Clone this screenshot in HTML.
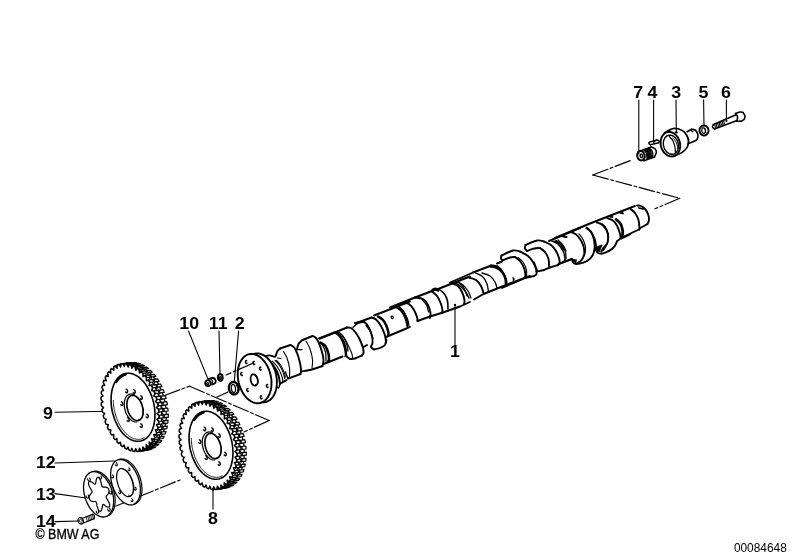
<!DOCTYPE html>
<html><head><meta charset="utf-8"><title>Camshaft</title><style>html,body{margin:0;padding:0;background:#fff;overflow:hidden}body{width:799px;height:559px;position:relative;font-family:"Liberation Sans",sans-serif}</style></head><body>
<svg width="799" height="559" viewBox="0 0 799 559" style="display:block;position:absolute;left:0;top:0"><rect width="799" height="559" fill="#fff"/><g style="opacity:0.999" fill="none" stroke="#000" stroke-linecap="round" stroke-linejoin="round" font-family="'Liberation Sans', sans-serif">
<text transform="translate(638.3 98.3) scale(1.08 1)" font-size="16.5" font-weight="bold" text-anchor="middle" fill="#000" stroke="none">7</text>
<text transform="translate(652.5 98.3) scale(1.08 1)" font-size="16.5" font-weight="bold" text-anchor="middle" fill="#000" stroke="none">4</text>
<text transform="translate(676.1 98.3) scale(1.08 1)" font-size="16.5" font-weight="bold" text-anchor="middle" fill="#000" stroke="none">3</text>
<text transform="translate(703.4 98.3) scale(1.08 1)" font-size="16.5" font-weight="bold" text-anchor="middle" fill="#000" stroke="none">5</text>
<text transform="translate(726.0 97.6) scale(1.08 1)" font-size="16.5" font-weight="bold" text-anchor="middle" fill="#000" stroke="none">6</text>
<text transform="translate(189.2 328.7) scale(1.08 1)" font-size="16.5" font-weight="bold" text-anchor="middle" fill="#000" stroke="none">10</text>
<text transform="translate(218.2 328.7) scale(1.08 1)" font-size="16.5" font-weight="bold" text-anchor="middle" fill="#000" stroke="none">11</text>
<text transform="translate(239.7 328.7) scale(1.08 1)" font-size="16.5" font-weight="bold" text-anchor="middle" fill="#000" stroke="none">2</text>
<text transform="translate(455.0 357.2) scale(1.08 1)" font-size="16.5" font-weight="bold" text-anchor="middle" fill="#000" stroke="none">1</text>
<text transform="translate(48.0 418.8) scale(1.08 1)" font-size="16.5" font-weight="bold" text-anchor="middle" fill="#000" stroke="none">9</text>
<text transform="translate(45.8 467.8) scale(1.08 1)" font-size="16.5" font-weight="bold" text-anchor="middle" fill="#000" stroke="none">12</text>
<text transform="translate(45.8 499.8) scale(1.08 1)" font-size="16.5" font-weight="bold" text-anchor="middle" fill="#000" stroke="none">13</text>
<text transform="translate(45.8 526.6) scale(1.08 1)" font-size="16.5" font-weight="bold" text-anchor="middle" fill="#000" stroke="none">14</text>
<text transform="translate(213.0 523.6) scale(1.08 1)" font-size="16.5" font-weight="bold" text-anchor="middle" fill="#000" stroke="none">8</text>
<text x="35.4" y="538.8" font-size="15.4" fill="#000" stroke="#000" stroke-width="0.35" textLength="64" lengthAdjust="spacingAndGlyphs">© BMW AG</text>
<text x="786.8" y="552.3" font-size="11.9" font-weight="normal" text-anchor="end" fill="#000" stroke="none" >00084648</text>
<path d="M638.8 100.0 L638.8 154.0" stroke-width="1.10" />
<path d="M653.6 100.0 L653.6 142.0" stroke-width="1.10" />
<path d="M676.0 100.0 L676.3 132.0" stroke-width="1.10" />
<circle cx="676.4" cy="132.3" r="1.2" fill="#000" stroke="none"/>
<path d="M703.6 100.0 L704.0 126.0" stroke-width="1.10" />
<path d="M726.4 100.0 L726.4 120.5" stroke-width="1.10" />
<circle cx="726.4" cy="121.0" r="1.1" fill="#000" stroke="none"/>
<path d="M188.5 331.0 L208.1 379.4" stroke-width="1.10" />
<path d="M219.0 331.0 L220.0 374.0" stroke-width="1.10" />
<path d="M238.6 331.0 L234.2 382.6" stroke-width="1.10" />
<path d="M455.0 305.5 L455.0 345.0" stroke-width="1.10" />
<circle cx="455.0" cy="305.0" r="1.2" fill="#000" stroke="none"/>
<path d="M55.0 412.3 L110.0 411.3" stroke-width="1.10" />
<circle cx="110.5" cy="411.3" r="1.3" fill="#000" stroke="none"/>
<path d="M55.0 463.0 L115.0 461.0" stroke-width="1.10" />
<path d="M55.0 493.6 L86.0 498.0" stroke-width="1.10" />
<circle cx="86.0" cy="498.0" r="1.1" fill="#000" stroke="none"/>
<path d="M55.0 521.6 L79.0 521.0" stroke-width="1.10" />
<path d="M213.0 490.0 L213.0 509.0" stroke-width="1.10" />
<circle cx="213.0" cy="489.5" r="1.2" fill="#000" stroke="none"/>
<path d="M592.8 175.0 L631.8 160.0" stroke-width="1.20" stroke-dasharray="16 2.5 3 2.5"/>
<path d="M592.8 175.0 L679.8 198.3" stroke-width="1.20" stroke-dasharray="16 2.5 3 2.5"/>
<path d="M679.8 198.3 L655.0 208.8" stroke-width="1.20" stroke-dasharray="16 2.5 3 2.5"/>
<path d="M164.5 395.5 L189.5 386.2" stroke-width="1.20" stroke-dasharray="16 2.5 3 2.5"/>
<path d="M189.5 386.2 L269.1 420.5" stroke-width="1.20" stroke-dasharray="16 2.5 3 2.5"/>
<path d="M269.1 420.5 L244.0 432.0" stroke-width="1.20" stroke-dasharray="16 2.5 3 2.5"/>
<path d="M228.0 392.0 L217.0 397.0" stroke-width="1.20" stroke-dasharray="16 2.5 3 2.5"/>
<path d="M116.0 506.0 L180.0 480.0" stroke-width="1.20" stroke-dasharray="16 2.5 3 2.5"/>
<path d="M125.7 367.6 L127.1 367.0 L128.4 366.4 L129.9 366.0 L131.3 365.7 L132.8 365.6 L134.3 365.6 L135.8 365.7 L137.3 365.9 L138.8 366.3 L140.4 366.8 L141.9 367.5 L143.4 368.2 L144.9 369.1 L146.4 370.1 L147.8 371.2 L149.3 372.5 L150.7 373.8 L152.1 375.2 L153.4 376.8 L154.7 378.4 L155.9 380.2 L157.1 382.0 L158.2 383.9 L159.2 385.8 L160.2 387.9 L161.2 390.0 L162.0 392.1 L162.8 394.3 L163.5 396.5 L164.2 398.8 L164.7 401.1 L165.2 403.4 L165.6 405.7 L165.9 408.0 L166.1 410.3 L166.2 412.6 L166.2 414.9 L166.2 417.2 L166.1 419.4 L165.9 421.6 L165.6 423.7 L165.2 425.7 L164.7 427.8 L164.2 429.7 L163.5 431.6 L162.8 433.3 L162.0 435.0 L161.2 436.6 L160.2 438.1 L159.3 439.6 L158.2 440.9 L157.1 442.0 L155.9 443.1 L154.7 444.1 L153.4 444.9 L152.1 445.6 L150.7 446.2 L149.3 446.6 L147.9 447.0 L146.4 447.2" stroke-width="1.30" />
<path d="M162.7 402.3 L163.2 405.3 L167.4 404.7 L166.8 401.7 Z" stroke-width="1.20" fill="#fff"/>
<path d="M160.6 401.9 L162.7 402.3 L163.2 405.3 L161.3 406.1" stroke-width="1.20" fill="#fff"/>
<path d="M163.7 408.5 L163.9 411.5 L168.1 411.0 L167.8 408.0 Z" stroke-width="1.20" fill="#fff"/>
<path d="M161.6 407.7 L163.7 408.5 L163.9 411.5 L162.0 411.9" stroke-width="1.20" fill="#fff"/>
<path d="M164.1 414.8 L164.1 417.7 L168.3 417.2 L168.3 414.2 Z" stroke-width="1.20" fill="#fff"/>
<path d="M162.0 413.5 L164.1 414.8 L164.1 417.7 L162.0 417.6" stroke-width="1.20" fill="#fff"/>
<path d="M163.9 420.8 L163.6 423.7 L167.8 423.1 L168.1 420.3 Z" stroke-width="1.20" fill="#fff"/>
<path d="M161.9 419.2 L163.9 420.8 L163.6 423.7 L161.5 423.1" stroke-width="1.20" fill="#fff"/>
<path d="M163.2 426.6 L162.6 429.3 L166.8 428.7 L167.3 426.1 Z" stroke-width="1.20" fill="#fff"/>
<path d="M161.3 424.6 L163.2 426.6 L162.6 429.3 L160.5 428.3" stroke-width="1.20" fill="#fff"/>
<path d="M161.8 432.0 L161.0 434.4 L165.2 433.9 L166.0 431.5 Z" stroke-width="1.20" fill="#fff"/>
<path d="M160.1 429.7 L161.8 432.0 L161.0 434.4 L159.0 433.0" stroke-width="1.20" fill="#fff"/>
<path d="M160.0 436.9 L158.9 439.0 L163.1 438.5 L164.1 436.3 Z" stroke-width="1.20" fill="#fff"/>
<path d="M158.5 434.3 L160.0 436.9 L158.9 439.0 L157.0 437.2" stroke-width="1.20" fill="#fff"/>
<path d="M157.6 441.2 L156.3 443.0 L160.5 442.4 L161.8 440.6 Z" stroke-width="1.20" fill="#fff"/>
<path d="M156.3 438.3 L157.6 441.2 L156.3 443.0 L154.5 440.8" stroke-width="1.20" fill="#fff"/>
<path d="M154.8 444.7 L153.3 446.2 L157.4 445.6 L158.9 444.2 Z" stroke-width="1.20" fill="#fff"/>
<path d="M153.7 441.7 L154.8 444.7 L153.3 446.2 L151.6 443.7" stroke-width="1.20" fill="#fff"/>
<path d="M151.5 447.5 L149.9 448.6 L154.0 448.0 L155.7 447.0 Z" stroke-width="1.20" fill="#fff"/>
<path d="M150.8 444.4 L151.5 447.5 L149.9 448.6 L148.4 445.9" stroke-width="1.20" fill="#fff"/>
<path d="M148.0 449.5 L146.1 450.1 L150.3 449.6 L152.1 449.0 Z" stroke-width="1.20" fill="#fff"/>
<path d="M147.5 446.3 L148.0 449.5 L146.1 450.1 L144.9 447.2" stroke-width="1.20" fill="#fff"/>
<path d="M144.1 450.6 L142.2 450.8 L146.4 450.3 L148.3 450.1 Z" stroke-width="1.20" fill="#fff"/>
<path d="M143.9 447.5 L144.1 450.6 L142.2 450.8 L141.3 447.8" stroke-width="1.20" fill="#fff"/>
<path d="M118.7 366.4 L120.4 365.3 L124.6 364.8 L122.9 365.8 Z" stroke-width="1.20" fill="#fff"/>
<path d="M119.5 369.5 L118.7 366.4 L120.4 365.3 L121.8 368.0" stroke-width="1.20" fill="#fff"/>
<path d="M122.3 364.4 L124.1 363.7 L128.3 363.2 L126.5 363.8 Z" stroke-width="1.20" fill="#fff"/>
<path d="M122.8 367.5 L122.3 364.4 L124.1 363.7 L125.3 366.6" stroke-width="1.20" fill="#fff"/>
<path d="M126.1 363.3 L128.0 363.1 L132.2 362.5 L130.3 362.7 Z" stroke-width="1.20" fill="#fff"/>
<path d="M126.3 366.4 L126.1 363.3 L128.0 363.1 L129.0 366.1" stroke-width="1.20" fill="#fff"/>
<path d="M130.1 363.1 L132.1 363.3 L136.3 362.7 L134.3 362.5 Z" stroke-width="1.20" fill="#fff"/>
<path d="M130.0 366.1 L130.1 363.1 L132.1 363.3 L132.7 366.4" stroke-width="1.20" fill="#fff"/>
<path d="M134.2 363.7 L136.2 364.4 L140.4 363.8 L138.4 363.2 Z" stroke-width="1.20" fill="#fff"/>
<path d="M133.8 366.6 L134.2 363.7 L136.2 364.4 L136.6 367.5" stroke-width="1.20" fill="#fff"/>
<path d="M138.4 365.3 L140.3 366.3 L144.5 365.8 L142.5 364.8 Z" stroke-width="1.20" fill="#fff"/>
<path d="M137.7 368.0 L138.4 365.3 L140.3 366.3 L140.4 369.5" stroke-width="1.20" fill="#fff"/>
<path d="M142.4 367.7 L144.3 369.1 L148.5 368.6 L146.6 367.2 Z" stroke-width="1.20" fill="#fff"/>
<path d="M141.5 370.1 L142.4 367.7 L144.3 369.1 L144.1 372.1" stroke-width="1.20" fill="#fff"/>
<path d="M146.3 370.9 L148.1 372.7 L152.3 372.2 L150.5 370.4 Z" stroke-width="1.20" fill="#fff"/>
<path d="M145.1 373.0 L146.3 370.9 L148.1 372.7 L147.6 375.5" stroke-width="1.20" fill="#fff"/>
<path d="M150.0 374.8 L151.7 377.0 L155.9 376.4 L154.2 374.3 Z" stroke-width="1.20" fill="#fff"/>
<path d="M148.6 376.6 L150.0 374.8 L151.7 377.0 L150.9 379.6" stroke-width="1.20" fill="#fff"/>
<path d="M153.4 379.4 L154.9 381.8 L159.1 381.3 L157.6 378.9 Z" stroke-width="1.20" fill="#fff"/>
<path d="M151.8 380.8 L153.4 379.4 L154.9 381.8 L153.9 384.2" stroke-width="1.20" fill="#fff"/>
<path d="M156.4 384.6 L157.7 387.2 L161.9 386.7 L160.6 384.0 Z" stroke-width="1.20" fill="#fff"/>
<path d="M154.6 385.5 L156.4 384.6 L157.7 387.2 L156.4 389.2" stroke-width="1.20" fill="#fff"/>
<path d="M159.0 390.2 L160.1 393.0 L164.3 392.4 L163.2 389.6 Z" stroke-width="1.20" fill="#fff"/>
<path d="M157.1 390.7 L159.0 390.2 L160.1 393.0 L158.6 394.6" stroke-width="1.20" fill="#fff"/>
<path d="M161.1 396.1 L161.9 399.1 L166.1 398.5 L165.3 395.6 Z" stroke-width="1.20" fill="#fff"/>
<path d="M159.1 396.2 L161.1 396.1 L161.9 399.1 L160.2 400.3" stroke-width="1.20" fill="#fff"/>
<path d="M121.1 368.2 L122.4 367.6 L123.8 367.0 L125.2 366.6 L126.7 366.3 L128.1 366.2 L129.6 366.2 L131.1 366.3 L132.6 366.5 L134.2 366.9 L135.7 367.4 L137.2 368.1 L138.7 368.8 L140.2 369.7 L141.7 370.7 L143.2 371.8 L144.6 373.1 L146.0 374.4 L147.4 375.8 L148.7 377.4 L150.0 379.0 L151.2 380.8 L152.4 382.6 L153.5 384.5 L154.6 386.4 L155.6 388.5 L156.5 390.6 L157.4 392.7 L158.2 394.9 L158.9 397.1 L159.5 399.4 L160.1 401.7 L160.5 404.0 L160.9 406.3 L161.2 408.6 L161.4 410.9 L161.6 413.2 L161.6 415.5 L161.6 417.8 L161.4 420.0 L161.2 422.2 L160.9 424.3 L160.5 426.3 L160.1 428.4 L159.5 430.3 L158.9 432.2 L158.2 433.9 L157.4 435.6 L156.5 437.2 L155.6 438.7 L154.6 440.2 L153.5 441.5 L152.4 442.6 L151.2 443.7 L150.0 444.7 L148.7 445.5 L147.4 446.2 L146.0 446.8 L144.6 447.2 L143.2 447.6 L141.7 447.8" stroke-width="1.10" fill="#fff"/>
<path d="M157.5 402.9 L158.1 405.9 L162.3 405.4 L161.7 402.4 Z" stroke-width="1.20" fill="#fff"/>
<path d="M155.5 402.6 L157.5 402.9 L158.1 405.9 L156.2 406.8" stroke-width="1.20" fill="#fff"/>
<path d="M158.5 409.2 L158.8 412.2 L163.0 411.7 L162.7 408.7 Z" stroke-width="1.20" fill="#fff"/>
<path d="M156.5 408.4 L158.5 409.2 L158.8 412.2 L156.8 412.6" stroke-width="1.20" fill="#fff"/>
<path d="M159.0 415.4 L159.0 418.4 L163.1 417.8 L163.1 414.9 Z" stroke-width="1.20" fill="#fff"/>
<path d="M156.9 414.2 L159.0 415.4 L159.0 418.4 L156.9 418.3" stroke-width="1.20" fill="#fff"/>
<path d="M158.8 421.5 L158.5 424.3 L162.7 423.8 L163.0 421.0 Z" stroke-width="1.20" fill="#fff"/>
<path d="M156.8 419.9 L158.8 421.5 L158.5 424.3 L156.4 423.8" stroke-width="1.20" fill="#fff"/>
<path d="M158.0 427.3 L157.5 429.9 L161.7 429.4 L162.2 426.7 Z" stroke-width="1.20" fill="#fff"/>
<path d="M156.2 425.3 L158.0 427.3 L157.5 429.9 L155.4 429.0" stroke-width="1.20" fill="#fff"/>
<path d="M156.7 432.7 L155.9 435.1 L160.1 434.5 L160.9 432.1 Z" stroke-width="1.20" fill="#fff"/>
<path d="M155.0 430.3 L156.7 432.7 L155.9 435.1 L153.9 433.7" stroke-width="1.20" fill="#fff"/>
<path d="M154.8 437.5 L153.8 439.7 L158.0 439.1 L159.0 437.0 Z" stroke-width="1.20" fill="#fff"/>
<path d="M153.3 434.9 L154.8 437.5 L153.8 439.7 L151.8 437.9" stroke-width="1.20" fill="#fff"/>
<path d="M152.5 441.8 L151.2 443.6 L155.4 443.1 L156.7 441.3 Z" stroke-width="1.20" fill="#fff"/>
<path d="M151.2 439.0 L152.5 441.8 L151.2 443.6 L149.4 441.5" stroke-width="1.20" fill="#fff"/>
<path d="M149.6 445.4 L148.1 446.8 L152.3 446.3 L153.8 444.8 Z" stroke-width="1.20" fill="#fff"/>
<path d="M148.6 442.4 L149.6 445.4 L148.1 446.8 L146.5 444.4" stroke-width="1.20" fill="#fff"/>
<path d="M146.4 448.2 L144.7 449.2 L148.9 448.7 L150.6 447.6 Z" stroke-width="1.20" fill="#fff"/>
<path d="M145.6 445.1 L146.4 448.2 L144.7 449.2 L143.3 446.5" stroke-width="1.20" fill="#fff"/>
<path d="M142.8 450.2 L141.0 450.8 L145.2 450.3 L147.0 449.6 Z" stroke-width="1.20" fill="#fff"/>
<path d="M142.4 447.0 L142.8 450.2 L141.0 450.8 L139.8 447.9" stroke-width="1.20" fill="#fff"/>
<path d="M139.0 451.3 L137.1 451.5 L141.3 450.9 L143.2 450.7 Z" stroke-width="1.20" fill="#fff"/>
<path d="M138.8 448.1 L139.0 451.3 L137.1 451.5 L136.2 448.4" stroke-width="1.20" fill="#fff"/>
<path d="M113.6 367.0 L115.3 366.0 L119.4 365.4 L117.8 366.5 Z" stroke-width="1.20" fill="#fff"/>
<path d="M114.4 370.1 L113.6 367.0 L115.3 366.0 L116.7 368.7" stroke-width="1.20" fill="#fff"/>
<path d="M117.2 365.0 L119.0 364.4 L123.2 363.9 L121.3 364.5 Z" stroke-width="1.20" fill="#fff"/>
<path d="M117.6 368.2 L117.2 365.0 L119.0 364.4 L120.2 367.3" stroke-width="1.20" fill="#fff"/>
<path d="M121.0 363.9 L122.9 363.7 L127.1 363.2 L125.2 363.4 Z" stroke-width="1.20" fill="#fff"/>
<path d="M121.2 367.1 L121.0 363.9 L122.9 363.7 L123.8 366.8" stroke-width="1.20" fill="#fff"/>
<path d="M125.0 363.7 L127.0 363.9 L131.1 363.4 L129.2 363.2 Z" stroke-width="1.20" fill="#fff"/>
<path d="M124.9 366.8 L125.0 363.7 L127.0 363.9 L127.6 367.1" stroke-width="1.20" fill="#fff"/>
<path d="M129.1 364.4 L131.1 365.0 L135.3 364.5 L133.3 363.9 Z" stroke-width="1.20" fill="#fff"/>
<path d="M128.7 367.3 L129.1 364.4 L131.1 365.0 L131.5 368.2" stroke-width="1.20" fill="#fff"/>
<path d="M133.2 366.0 L135.2 367.0 L139.4 366.5 L137.4 365.4 Z" stroke-width="1.20" fill="#fff"/>
<path d="M132.6 368.6 L133.2 366.0 L135.2 367.0 L135.3 370.1" stroke-width="1.20" fill="#fff"/>
<path d="M137.3 368.4 L139.2 369.8 L143.4 369.3 L141.5 367.8 Z" stroke-width="1.20" fill="#fff"/>
<path d="M136.3 370.8 L137.3 368.4 L139.2 369.8 L139.0 372.8" stroke-width="1.20" fill="#fff"/>
<path d="M141.2 371.6 L143.0 373.4 L147.2 372.8 L145.4 371.0 Z" stroke-width="1.20" fill="#fff"/>
<path d="M140.0 373.7 L141.2 371.6 L143.0 373.4 L142.5 376.2" stroke-width="1.20" fill="#fff"/>
<path d="M144.9 375.5 L146.6 377.6 L150.8 377.1 L149.1 374.9 Z" stroke-width="1.20" fill="#fff"/>
<path d="M143.5 377.3 L144.9 375.5 L146.6 377.6 L145.8 380.2" stroke-width="1.20" fill="#fff"/>
<path d="M148.3 380.1 L149.8 382.5 L154.0 381.9 L152.5 379.5 Z" stroke-width="1.20" fill="#fff"/>
<path d="M146.7 381.5 L148.3 380.1 L149.8 382.5 L148.7 384.8" stroke-width="1.20" fill="#fff"/>
<path d="M151.3 385.2 L152.6 387.9 L156.8 387.3 L155.5 384.7 Z" stroke-width="1.20" fill="#fff"/>
<path d="M149.5 386.2 L151.3 385.2 L152.6 387.9 L151.3 389.9" stroke-width="1.20" fill="#fff"/>
<path d="M153.9 390.8 L155.0 393.6 L159.1 393.1 L158.1 390.3 Z" stroke-width="1.20" fill="#fff"/>
<path d="M151.9 391.4 L153.9 390.8 L155.0 393.6 L153.4 395.3" stroke-width="1.20" fill="#fff"/>
<path d="M156.0 396.8 L156.8 399.7 L161.0 399.2 L160.2 396.2 Z" stroke-width="1.20" fill="#fff"/>
<path d="M153.9 396.9 L156.0 396.8 L156.8 399.7 L155.1 401.0" stroke-width="1.20" fill="#fff"/>
<path d="M155.4 401.7 L156.2 402.2 L156.9 402.7 L157.6 403.2 L157.7 403.8 L157.8 404.4 L157.9 405.1 L158.1 405.7 L157.6 406.3 L157.0 407.0 L156.5 407.6 L157.2 408.2 L157.9 408.8 L158.6 409.5 L158.6 410.1 L158.7 410.7 L158.8 411.3 L158.8 412.0 L158.2 412.5 L157.6 413.0 L157.0 413.4 L157.7 414.1 L158.4 414.9 L159.0 415.7 L159.0 416.3 L159.0 416.9 L159.0 417.5 L159.0 418.1 L158.3 418.5 L157.7 418.8 L157.0 419.1 L157.6 420.0 L158.2 420.9 L158.8 421.7 L158.7 422.3 L158.7 422.9 L158.6 423.5 L158.5 424.1 L157.9 424.3 L157.2 424.5 L156.5 424.6 L157.0 425.6 L157.5 426.5 L158.0 427.5 L157.9 428.1 L157.8 428.6 L157.7 429.2 L157.5 429.7 L156.8 429.8 L156.1 429.8 L155.4 429.8 L155.8 430.8 L156.3 431.8 L156.7 432.9 L156.5 433.4 L156.3 433.9 L156.1 434.4 L156.0 434.9 L155.2 434.8 L154.5 434.6 L153.7 434.5 L154.1 435.6 L154.5 436.7 L154.8 437.7 L154.5 438.2 L154.3 438.6 L154.1 439.1 L153.9 439.5 L153.1 439.3 L152.4 438.9 L151.6 438.6 L151.9 439.7 L152.2 440.9 L152.4 442.0 L152.1 442.4 L151.8 442.7 L151.6 443.1 L151.3 443.5 L150.6 443.1 L149.8 442.6 L149.1 442.1 L149.3 443.3 L149.4 444.4 L149.5 445.5 L149.2 445.8 L148.9 446.1 L148.6 446.4 L148.3 446.7 L147.6 446.2 L146.9 445.6 L146.2 444.9 L146.2 446.1 L146.3 447.2 L146.3 448.3 L145.9 448.5 L145.6 448.7 L145.2 448.9 L144.9 449.2 L144.2 448.5 L143.6 447.7 L142.9 447.0 L142.9 448.1 L142.8 449.2 L142.7 450.2 L142.3 450.4 L141.9 450.5 L141.6 450.6 L141.2 450.7 L140.6 450.0 L140.0 449.1 L139.4 448.2 L139.2 449.3 L139.1 450.3 L138.9 451.3 L138.5 451.3 L138.1 451.4 L137.7 451.4 L137.3 451.5 L136.7 450.6 L136.2 449.6 L135.7 448.7 L135.4 449.6 L135.1 450.6 L134.8 451.5 L134.4 451.4 L134.0 451.4 L133.6 451.3 L133.2 451.3 L132.7 450.3 L132.3 449.3 L131.8 448.2 L131.5 449.1 L131.1 450.0 L130.7 450.8 L130.3 450.6 L129.9 450.5 L129.5 450.4 L129.1 450.2 L128.7 449.2 L128.3 448.1 L128.0 447.0 L127.5 447.8 L127.1 448.5 L126.6 449.2 L126.2 449.0 L125.8 448.7 L125.4 448.5 L125.0 448.3 L124.7 447.2 L124.4 446.1 L124.1 445.0 L123.6 445.6 L123.1 446.2 L122.5 446.7 L122.1 446.4 L121.7 446.2 L121.3 445.8 L121.0 445.5 L120.8 444.4 L120.6 443.3 L120.4 442.2 L119.8 442.6 L119.2 443.1 L118.6 443.5 L118.2 443.1 L117.9 442.8 L117.5 442.4 L117.1 442.0 L117.0 440.9 L117.0 439.8 L116.9 438.6 L116.3 439.0 L115.6 439.3 L115.0 439.5 L114.6 439.1 L114.2 438.7 L113.9 438.2 L113.6 437.8 L113.6 436.7 L113.6 435.6 L113.7 434.5 L113.0 434.7 L112.3 434.8 L111.6 434.9 L111.3 434.4 L110.9 433.9 L110.6 433.4 L110.3 432.9 L110.4 431.9 L110.6 430.8 L110.8 429.8 L110.0 429.8 L109.3 429.8 L108.6 429.8 L108.3 429.2 L108.0 428.7 L107.8 428.1 L107.5 427.6 L107.7 426.6 L108.0 425.6 L108.3 424.7 L107.5 424.5 L106.8 424.4 L106.0 424.1 L105.8 423.6 L105.6 423.0 L105.3 422.4 L105.1 421.8 L105.4 420.9 L105.8 420.0 L106.2 419.2 L105.4 418.9 L104.7 418.6 L104.0 418.2 L103.8 417.6 L103.6 417.0 L103.4 416.3 L103.3 415.7 L103.7 415.0 L104.1 414.2 L104.6 413.5 L103.8 413.0 L103.1 412.5 L102.4 412.0 L102.3 411.4 L102.2 410.8 L102.1 410.1 L101.9 409.5 L102.4 408.9 L103.0 408.2 L103.5 407.6 L102.8 407.0 L102.1 406.4 L101.4 405.7 L101.4 405.1 L101.3 404.5 L101.2 403.9 L101.2 403.2 L101.8 402.7 L102.4 402.2 L103.0 401.8 L102.3 401.1 L101.6 400.3 L101.0 399.5 L101.0 398.9 L101.0 398.3 L101.0 397.7 L101.0 397.1 L101.7 396.7 L102.3 396.4 L103.0 396.1 L102.4 395.2 L101.8 394.3 L101.2 393.5 L101.3 392.9 L101.3 392.3 L101.4 391.7 L101.5 391.1 L102.1 390.9 L102.8 390.7 L103.5 390.6 L103.0 389.6 L102.5 388.7 L102.0 387.7 L102.1 387.1 L102.2 386.6 L102.3 386.0 L102.5 385.5 L103.2 385.4 L103.9 385.4 L104.6 385.4 L104.2 384.4 L103.7 383.4 L103.3 382.3 L103.5 381.8 L103.7 381.3 L103.9 380.8 L104.0 380.3 L104.8 380.4 L105.5 380.6 L106.3 380.7 L105.9 379.6 L105.5 378.5 L105.2 377.5 L105.5 377.0 L105.7 376.6 L105.9 376.1 L106.1 375.7 L106.9 375.9 L107.6 376.3 L108.4 376.6 L108.1 375.5 L107.8 374.3 L107.6 373.2 L107.9 372.8 L108.2 372.5 L108.4 372.1 L108.7 371.7 L109.4 372.1 L110.2 372.6 L110.9 373.1 L110.7 371.9 L110.6 370.8 L110.5 369.7 L110.8 369.4 L111.1 369.1 L111.4 368.8 L111.7 368.5 L112.4 369.0 L113.1 369.6 L113.8 370.3 L113.8 369.1 L113.7 368.0 L113.7 366.9 L114.1 366.7 L114.4 366.5 L114.8 366.3 L115.1 366.0 L115.8 366.7 L116.4 367.5 L117.1 368.2 L117.1 367.1 L117.2 366.0 L117.3 365.0 L117.7 364.8 L118.1 364.7 L118.4 364.6 L118.8 364.5 L119.4 365.2 L120.0 366.1 L120.6 367.0 L120.8 365.9 L120.9 364.9 L121.1 363.9 L121.5 363.9 L121.9 363.8 L122.3 363.8 L122.7 363.7 L123.3 364.6 L123.8 365.6 L124.3 366.5 L124.6 365.6 L124.9 364.6 L125.2 363.7 L125.6 363.8 L126.0 363.8 L126.4 363.9 L126.8 363.9 L127.3 364.9 L127.7 365.9 L128.2 367.0 L128.5 366.1 L128.9 365.2 L129.3 364.4 L129.7 364.6 L130.1 364.7 L130.5 364.8 L130.9 365.0 L131.3 366.0 L131.7 367.1 L132.0 368.2 L132.5 367.4 L132.9 366.7 L133.4 366.0 L133.8 366.2 L134.2 366.5 L134.6 366.7 L135.0 366.9 L135.3 368.0 L135.6 369.1 L135.9 370.2 L136.4 369.6 L136.9 369.0 L137.5 368.5 L137.9 368.8 L138.3 369.0 L138.7 369.4 L139.0 369.7 L139.2 370.8 L139.4 371.9 L139.6 373.0 L140.2 372.6 L140.8 372.1 L141.4 371.7 L141.8 372.1 L142.1 372.4 L142.5 372.8 L142.9 373.2 L143.0 374.3 L143.0 375.4 L143.1 376.6 L143.7 376.2 L144.4 375.9 L145.0 375.7 L145.4 376.1 L145.8 376.5 L146.1 377.0 L146.4 377.4 L146.4 378.5 L146.4 379.6 L146.3 380.7 L147.0 380.5 L147.7 380.4 L148.4 380.3 L148.7 380.8 L149.1 381.3 L149.4 381.8 L149.7 382.3 L149.6 383.3 L149.4 384.4 L149.2 385.4 L150.0 385.4 L150.7 385.4 L151.4 385.4 L151.7 386.0 L152.0 386.5 L152.2 387.1 L152.5 387.6 L152.3 388.6 L152.0 389.6 L151.7 390.5 L152.5 390.7 L153.2 390.8 L154.0 391.1 L154.2 391.6 L154.4 392.2 L154.7 392.8 L154.9 393.4 L154.6 394.3 L154.2 395.2 L153.8 396.0 L154.6 396.3 L155.3 396.6 L156.0 397.0 L156.2 397.6 L156.4 398.2 L156.6 398.9 L156.7 399.5 L156.3 400.2 L155.9 401.0 Z" stroke-width="1.50" fill="#fff"/>
<path d="M153.6 402.6 L154.3 406.1 L154.7 409.7 L155.0 413.2 L154.9 416.7 L154.7 420.0 L154.2 423.3 L153.5 426.3 L152.5 429.2 L151.4 431.8 L150.0 434.1 L148.5 436.2 L146.8 437.9 L144.9 439.3 L142.9 440.3 L140.8 441.0 L138.6 441.3 L136.3 441.3 L134.0 440.8 L131.7 440.0 L129.5 438.9 L127.2 437.4 L125.0 435.5 L122.9 433.4 L120.9 431.0 L119.1 428.3 L117.4 425.3 L115.9 422.2 L114.5 419.0 L113.4 415.5 L112.4 412.0 L111.7 408.5 L111.3 404.9 L111.0 401.4 L111.1 397.9 L111.3 394.6 L111.8 391.3 L112.5 388.3 L113.5 385.4 L114.6 382.8 L116.0 380.5 L117.5 378.4 L119.2 376.7 L121.1 375.3 L123.1 374.3 L125.2 373.6 L127.4 373.3 L129.7 373.3 L132.0 373.8 L134.3 374.6 L136.5 375.7 L138.8 377.2 L141.0 379.1 L143.1 381.2 L145.1 383.6 L146.9 386.3 L148.6 389.3 L150.1 392.4 L151.5 395.6 L152.6 399.1 Z" stroke-width="1.60" />
<path d="M144.1 437.8 L143.5 438.1 L142.9 438.4 L142.2 438.7 L141.6 438.9 L140.9 439.1 L140.3 439.2 L139.6 439.3 L138.9 439.3 L138.2 439.4 L137.5 439.3 L136.8 439.3 L136.1 439.2 L135.4 439.0 L134.7 438.9 L134.0 438.6 L133.3 438.4 L132.6 438.1 L131.9 437.8 L131.2 437.4 L130.5 437.0 L129.8 436.6 L129.1 436.1 L128.4 435.6 L127.7 435.0 L127.1 434.4 L126.4 433.8 L125.7 433.2 L125.1 432.5 L124.5 431.8 L123.8 431.1 L123.2 430.3 L122.6 429.5 L122.0 428.7 L121.5 427.8 L120.9 427.0 L120.4 426.1 L119.8 425.1 L119.3 424.2 L118.8 423.2 L118.3 422.3 L117.9 421.3 L117.5 420.3 L117.0 419.2 L116.6 418.2 L116.3 417.1 L115.9 416.0 L115.6 415.0 L115.3 413.9 L115.0 412.8 L114.7 411.7 L114.5 410.6 L114.2 409.4 L114.0 408.3 L113.9 407.2 L113.7 406.1 L113.6 405.0 L113.5 403.8 L113.4 402.7 L113.4 401.6 L113.3 400.5" stroke-width="0.90" />
<path d="M116.2 381.9 L116.8 381.0 L117.4 380.1 L118.1 379.2 L118.8 378.5 L119.5 377.7 L120.3 377.1 L121.1 376.5 L121.9 376.0 L122.8 375.5 L123.6 375.1 L124.5 374.8 L125.4 374.6" stroke-width="2.60" />
<path d="M142.3 405.9 L142.6 407.2 L142.9 408.5 L143.1 409.9 L143.1 411.2 L143.1 412.4 L143.0 413.7 L142.8 414.8 L142.6 415.9 L142.2 416.9 L141.8 417.8 L141.2 418.6 L140.7 419.2 L140.0 419.8 L139.3 420.2 L138.6 420.5 L137.8 420.6 L137.0 420.7 L136.2 420.5 L135.3 420.3 L134.5 419.9 L133.6 419.3 L132.8 418.7 L132.0 417.9 L131.2 417.0 L130.5 416.1 L129.8 415.0 L129.2 413.9 L128.6 412.6 L128.1 411.4 L127.7 410.1 L127.4 408.8 L127.1 407.5 L126.9 406.1 L126.9 404.8 L126.9 403.6 L127.0 402.3 L127.2 401.2 L127.4 400.1 L127.8 399.1 L128.2 398.2 L128.8 397.4 L129.3 396.8 L130.0 396.2 L130.7 395.8 L131.4 395.5 L132.2 395.4 L133.0 395.3 L133.8 395.5 L134.7 395.7 L135.5 396.1 L136.4 396.7 L137.2 397.3 L138.0 398.1 L138.8 399.0 L139.5 399.9 L140.2 401.0 L140.8 402.1 L141.4 403.4 L141.9 404.6 Z" stroke-width="1.60" />
<path d="M136.8 422.0 L136.3 422.0 L135.8 422.0 L135.2 422.0 L134.7 421.9 L134.1 421.7 L133.5 421.5 L133.0 421.3 L132.4 421.0 L131.9 420.7 L131.3 420.3 L130.8 419.8 L130.3 419.4 L129.8 418.8 L129.3 418.3 L128.8 417.7 L128.3 417.1 L127.9 416.4 L127.4 415.7 L127.0 415.0 L126.6 414.3 L126.3 413.5 L125.9 412.8 L125.6 412.0 L125.4 411.1 L125.1 410.3 L124.9 409.5 L124.7 408.7 L124.6 407.8 L124.4 407.0 L124.3 406.2 L124.3 405.3 L124.3 404.5 L124.3 403.7 L124.3 402.9 L124.4 402.1 L124.5 401.4 L124.6 400.7 L124.8 400.0 L125.0 399.3 L125.2 398.6 L125.5 398.0 L125.8 397.5 L126.1 396.9 L126.5 396.4 L126.8 396.0 L127.2 395.6 L127.6 395.2 L128.1 394.9 L128.5 394.6 L129.0 394.4 L129.5 394.2 L130.0 394.1 L130.5 394.0 L131.1 393.9 L131.6 394.0 L132.2 394.0 L132.7 394.2 L133.3 394.3 L133.8 394.5 L134.4 394.8" stroke-width="1.20" />
<path d="M136.5 397.5 L136.8 397.7 L137.1 397.9 L137.4 398.2 L137.7 398.4 L138.1 398.7 L138.4 399.1 L138.7 399.4 L139.0 399.7 L139.3 400.1 L139.6 400.5 L139.8 400.9 L140.1 401.3 L140.4 401.8 L140.6 402.2 L140.9 402.7 L141.1 403.1 L141.3 403.6 L141.5 404.1 L141.7 404.6 L141.9 405.1 L142.1 405.6 L142.3 406.2 L142.4 406.7 L142.6 407.2 L142.7 407.8 L142.8 408.3 L142.9 408.8 L143.0 409.4 L143.0 409.9 L143.1 410.4 L143.1 410.9 L143.2 411.5 L143.2 412.0 L143.2 412.5 L143.1 413.0 L143.1 413.4 L143.0 413.9 L143.0 414.4 L142.9 414.8 L142.8 415.2 L142.7 415.7 L142.6 416.1 L142.4 416.4 L142.3 416.8 L142.1 417.1 L141.9 417.5 L141.7 417.8 L141.5 418.1 L141.3 418.3 L141.1 418.6 L140.8 418.8 L140.6 419.0 L140.3 419.1 L140.1 419.3 L139.8 419.4 L139.5 419.5 L139.2 419.6 L138.9 419.6 L138.6 419.7 L138.3 419.7" stroke-width="1.00" />
<path d="M126.2 389.2 L126.8 389.5 L127.3 390.1 L127.6 390.9 L127.6 391.8 L127.3 392.5 L126.8 392.8 L126.1 392.6 L125.6 392.1" stroke-width="1.40" />
<path d="M133.8 389.8 L134.4 390.1 L134.9 390.7 L135.2 391.5 L135.2 392.4 L134.9 393.1 L134.4 393.4 L133.7 393.2 L133.2 392.7" stroke-width="1.40" />
<path d="M140.8 395.8 L141.4 396.1 L141.9 396.7 L142.2 397.5 L142.2 398.4 L141.9 399.1 L141.4 399.4 L140.7 399.2 L140.2 398.7" stroke-width="1.40" />
<path d="M121.4 401.8 L122.0 402.1 L122.5 402.7 L122.8 403.5 L122.8 404.4 L122.5 405.1 L122.0 405.4 L121.3 405.2 L120.8 404.7" stroke-width="1.40" />
<path d="M127.8 417.8 L128.4 418.1 L128.9 418.7 L129.2 419.5 L129.2 420.4 L128.9 421.1 L128.4 421.4 L127.7 421.2 L127.2 420.7" stroke-width="1.40" />
<path d="M140.8 423.8 L141.4 424.1 L141.9 424.7 L142.2 425.5 L142.2 426.4 L141.9 427.1 L141.4 427.4 L140.7 427.2 L140.2 426.7" stroke-width="1.40" />
<path d="M146.8 414.2 L147.4 414.5 L147.9 415.1 L148.2 415.9 L148.2 416.8 L147.9 417.5 L147.4 417.8 L146.7 417.6 L146.2 417.1" stroke-width="1.40" />
<path d="M203.7 405.6 L205.1 405.0 L206.4 404.4 L207.9 404.0 L209.3 403.7 L210.8 403.6 L212.3 403.6 L213.8 403.7 L215.3 403.9 L216.8 404.3 L218.4 404.8 L219.9 405.5 L221.4 406.2 L222.9 407.1 L224.4 408.1 L225.8 409.2 L227.3 410.5 L228.7 411.8 L230.1 413.2 L231.4 414.8 L232.7 416.4 L233.9 418.2 L235.1 420.0 L236.2 421.9 L237.2 423.8 L238.2 425.9 L239.2 428.0 L240.0 430.1 L240.8 432.3 L241.5 434.5 L242.2 436.8 L242.7 439.1 L243.2 441.4 L243.6 443.7 L243.9 446.0 L244.1 448.3 L244.2 450.6 L244.2 452.9 L244.2 455.2 L244.1 457.4 L243.9 459.6 L243.6 461.7 L243.2 463.7 L242.7 465.8 L242.2 467.7 L241.5 469.6 L240.8 471.3 L240.0 473.0 L239.2 474.6 L238.2 476.1 L237.3 477.6 L236.2 478.9 L235.1 480.0 L233.9 481.1 L232.7 482.1 L231.4 482.9 L230.1 483.6 L228.7 484.2 L227.3 484.6 L225.9 485.0 L224.4 485.2" stroke-width="1.30" />
<path d="M240.7 440.3 L241.2 443.3 L245.4 442.7 L244.8 439.7 Z" stroke-width="1.20" fill="#fff"/>
<path d="M238.6 439.9 L240.7 440.3 L241.2 443.3 L239.3 444.1" stroke-width="1.20" fill="#fff"/>
<path d="M241.7 446.5 L241.9 449.5 L246.1 449.0 L245.8 446.0 Z" stroke-width="1.20" fill="#fff"/>
<path d="M239.6 445.7 L241.7 446.5 L241.9 449.5 L240.0 449.9" stroke-width="1.20" fill="#fff"/>
<path d="M242.1 452.8 L242.1 455.7 L246.3 455.2 L246.3 452.2 Z" stroke-width="1.20" fill="#fff"/>
<path d="M240.0 451.5 L242.1 452.8 L242.1 455.7 L240.0 455.6" stroke-width="1.20" fill="#fff"/>
<path d="M241.9 458.8 L241.6 461.7 L245.8 461.1 L246.1 458.3 Z" stroke-width="1.20" fill="#fff"/>
<path d="M239.9 457.2 L241.9 458.8 L241.6 461.7 L239.5 461.1" stroke-width="1.20" fill="#fff"/>
<path d="M241.2 464.6 L240.6 467.3 L244.8 466.7 L245.3 464.1 Z" stroke-width="1.20" fill="#fff"/>
<path d="M239.3 462.6 L241.2 464.6 L240.6 467.3 L238.5 466.3" stroke-width="1.20" fill="#fff"/>
<path d="M239.8 470.0 L239.0 472.4 L243.2 471.9 L244.0 469.5 Z" stroke-width="1.20" fill="#fff"/>
<path d="M238.1 467.7 L239.8 470.0 L239.0 472.4 L237.0 471.0" stroke-width="1.20" fill="#fff"/>
<path d="M238.0 474.9 L236.9 477.0 L241.1 476.5 L242.1 474.3 Z" stroke-width="1.20" fill="#fff"/>
<path d="M236.5 472.3 L238.0 474.9 L236.9 477.0 L235.0 475.2" stroke-width="1.20" fill="#fff"/>
<path d="M235.6 479.2 L234.3 481.0 L238.5 480.4 L239.8 478.6 Z" stroke-width="1.20" fill="#fff"/>
<path d="M234.3 476.3 L235.6 479.2 L234.3 481.0 L232.5 478.8" stroke-width="1.20" fill="#fff"/>
<path d="M232.8 482.7 L231.3 484.2 L235.4 483.6 L236.9 482.2 Z" stroke-width="1.20" fill="#fff"/>
<path d="M231.7 479.7 L232.8 482.7 L231.3 484.2 L229.6 481.7" stroke-width="1.20" fill="#fff"/>
<path d="M229.5 485.5 L227.9 486.6 L232.0 486.0 L233.7 485.0 Z" stroke-width="1.20" fill="#fff"/>
<path d="M228.8 482.4 L229.5 485.5 L227.9 486.6 L226.4 483.9" stroke-width="1.20" fill="#fff"/>
<path d="M226.0 487.5 L224.1 488.1 L228.3 487.6 L230.1 487.0 Z" stroke-width="1.20" fill="#fff"/>
<path d="M225.5 484.3 L226.0 487.5 L224.1 488.1 L222.9 485.2" stroke-width="1.20" fill="#fff"/>
<path d="M222.1 488.6 L220.2 488.8 L224.4 488.3 L226.3 488.1 Z" stroke-width="1.20" fill="#fff"/>
<path d="M221.9 485.5 L222.1 488.6 L220.2 488.8 L219.3 485.8" stroke-width="1.20" fill="#fff"/>
<path d="M196.7 404.4 L198.4 403.3 L202.6 402.8 L200.9 403.8 Z" stroke-width="1.20" fill="#fff"/>
<path d="M197.5 407.5 L196.7 404.4 L198.4 403.3 L199.8 406.0" stroke-width="1.20" fill="#fff"/>
<path d="M200.3 402.4 L202.1 401.7 L206.3 401.2 L204.5 401.8 Z" stroke-width="1.20" fill="#fff"/>
<path d="M200.8 405.5 L200.3 402.4 L202.1 401.7 L203.3 404.6" stroke-width="1.20" fill="#fff"/>
<path d="M204.1 401.3 L206.0 401.1 L210.2 400.5 L208.3 400.7 Z" stroke-width="1.20" fill="#fff"/>
<path d="M204.3 404.4 L204.1 401.3 L206.0 401.1 L207.0 404.1" stroke-width="1.20" fill="#fff"/>
<path d="M208.1 401.1 L210.1 401.3 L214.3 400.7 L212.3 400.5 Z" stroke-width="1.20" fill="#fff"/>
<path d="M208.0 404.1 L208.1 401.1 L210.1 401.3 L210.7 404.4" stroke-width="1.20" fill="#fff"/>
<path d="M212.2 401.7 L214.2 402.4 L218.4 401.8 L216.4 401.2 Z" stroke-width="1.20" fill="#fff"/>
<path d="M211.8 404.6 L212.2 401.7 L214.2 402.4 L214.6 405.5" stroke-width="1.20" fill="#fff"/>
<path d="M216.4 403.3 L218.3 404.3 L222.5 403.8 L220.5 402.8 Z" stroke-width="1.20" fill="#fff"/>
<path d="M215.7 406.0 L216.4 403.3 L218.3 404.3 L218.4 407.5" stroke-width="1.20" fill="#fff"/>
<path d="M220.4 405.7 L222.3 407.1 L226.5 406.6 L224.6 405.2 Z" stroke-width="1.20" fill="#fff"/>
<path d="M219.5 408.1 L220.4 405.7 L222.3 407.1 L222.1 410.1" stroke-width="1.20" fill="#fff"/>
<path d="M224.3 408.9 L226.1 410.7 L230.3 410.2 L228.5 408.4 Z" stroke-width="1.20" fill="#fff"/>
<path d="M223.1 411.0 L224.3 408.9 L226.1 410.7 L225.6 413.5" stroke-width="1.20" fill="#fff"/>
<path d="M228.0 412.8 L229.7 415.0 L233.9 414.4 L232.2 412.3 Z" stroke-width="1.20" fill="#fff"/>
<path d="M226.6 414.6 L228.0 412.8 L229.7 415.0 L228.9 417.6" stroke-width="1.20" fill="#fff"/>
<path d="M231.4 417.4 L232.9 419.8 L237.1 419.3 L235.6 416.9 Z" stroke-width="1.20" fill="#fff"/>
<path d="M229.8 418.8 L231.4 417.4 L232.9 419.8 L231.9 422.2" stroke-width="1.20" fill="#fff"/>
<path d="M234.4 422.6 L235.7 425.2 L239.9 424.7 L238.6 422.0 Z" stroke-width="1.20" fill="#fff"/>
<path d="M232.6 423.5 L234.4 422.6 L235.7 425.2 L234.4 427.2" stroke-width="1.20" fill="#fff"/>
<path d="M237.0 428.2 L238.1 431.0 L242.3 430.4 L241.2 427.6 Z" stroke-width="1.20" fill="#fff"/>
<path d="M235.1 428.7 L237.0 428.2 L238.1 431.0 L236.6 432.6" stroke-width="1.20" fill="#fff"/>
<path d="M239.1 434.1 L239.9 437.1 L244.1 436.5 L243.3 433.6 Z" stroke-width="1.20" fill="#fff"/>
<path d="M237.1 434.2 L239.1 434.1 L239.9 437.1 L238.2 438.3" stroke-width="1.20" fill="#fff"/>
<path d="M199.1 406.2 L200.4 405.6 L201.8 405.0 L203.2 404.6 L204.7 404.3 L206.1 404.2 L207.6 404.2 L209.1 404.3 L210.6 404.5 L212.2 404.9 L213.7 405.4 L215.2 406.1 L216.7 406.8 L218.2 407.7 L219.7 408.7 L221.2 409.8 L222.6 411.1 L224.0 412.4 L225.4 413.8 L226.7 415.4 L228.0 417.0 L229.2 418.8 L230.4 420.6 L231.5 422.5 L232.6 424.4 L233.6 426.5 L234.5 428.6 L235.4 430.7 L236.2 432.9 L236.9 435.1 L237.5 437.4 L238.1 439.7 L238.5 442.0 L238.9 444.3 L239.2 446.6 L239.4 448.9 L239.6 451.2 L239.6 453.5 L239.6 455.8 L239.4 458.0 L239.2 460.2 L238.9 462.3 L238.5 464.3 L238.1 466.4 L237.5 468.3 L236.9 470.2 L236.2 471.9 L235.4 473.6 L234.5 475.2 L233.6 476.7 L232.6 478.2 L231.5 479.5 L230.4 480.6 L229.2 481.7 L228.0 482.7 L226.7 483.5 L225.4 484.2 L224.0 484.8 L222.6 485.2 L221.2 485.6 L219.7 485.8" stroke-width="1.10" fill="#fff"/>
<path d="M235.5 440.9 L236.1 443.9 L240.3 443.4 L239.7 440.4 Z" stroke-width="1.20" fill="#fff"/>
<path d="M233.5 440.6 L235.5 440.9 L236.1 443.9 L234.2 444.8" stroke-width="1.20" fill="#fff"/>
<path d="M236.5 447.2 L236.8 450.2 L241.0 449.7 L240.7 446.7 Z" stroke-width="1.20" fill="#fff"/>
<path d="M234.5 446.4 L236.5 447.2 L236.8 450.2 L234.8 450.6" stroke-width="1.20" fill="#fff"/>
<path d="M237.0 453.4 L237.0 456.4 L241.1 455.8 L241.1 452.9 Z" stroke-width="1.20" fill="#fff"/>
<path d="M234.9 452.2 L237.0 453.4 L237.0 456.4 L234.9 456.3" stroke-width="1.20" fill="#fff"/>
<path d="M236.8 459.5 L236.5 462.3 L240.7 461.8 L241.0 459.0 Z" stroke-width="1.20" fill="#fff"/>
<path d="M234.8 457.9 L236.8 459.5 L236.5 462.3 L234.4 461.8" stroke-width="1.20" fill="#fff"/>
<path d="M236.0 465.3 L235.5 467.9 L239.7 467.4 L240.2 464.7 Z" stroke-width="1.20" fill="#fff"/>
<path d="M234.2 463.3 L236.0 465.3 L235.5 467.9 L233.4 467.0" stroke-width="1.20" fill="#fff"/>
<path d="M234.7 470.7 L233.9 473.1 L238.1 472.5 L238.9 470.1 Z" stroke-width="1.20" fill="#fff"/>
<path d="M233.0 468.3 L234.7 470.7 L233.9 473.1 L231.9 471.7" stroke-width="1.20" fill="#fff"/>
<path d="M232.8 475.5 L231.8 477.7 L236.0 477.1 L237.0 475.0 Z" stroke-width="1.20" fill="#fff"/>
<path d="M231.3 472.9 L232.8 475.5 L231.8 477.7 L229.8 475.9" stroke-width="1.20" fill="#fff"/>
<path d="M230.5 479.8 L229.2 481.6 L233.4 481.1 L234.7 479.3 Z" stroke-width="1.20" fill="#fff"/>
<path d="M229.2 477.0 L230.5 479.8 L229.2 481.6 L227.4 479.5" stroke-width="1.20" fill="#fff"/>
<path d="M227.6 483.4 L226.1 484.8 L230.3 484.3 L231.8 482.8 Z" stroke-width="1.20" fill="#fff"/>
<path d="M226.6 480.4 L227.6 483.4 L226.1 484.8 L224.5 482.4" stroke-width="1.20" fill="#fff"/>
<path d="M224.4 486.2 L222.7 487.2 L226.9 486.7 L228.6 485.6 Z" stroke-width="1.20" fill="#fff"/>
<path d="M223.6 483.1 L224.4 486.2 L222.7 487.2 L221.3 484.5" stroke-width="1.20" fill="#fff"/>
<path d="M220.8 488.2 L219.0 488.8 L223.2 488.3 L225.0 487.6 Z" stroke-width="1.20" fill="#fff"/>
<path d="M220.4 485.0 L220.8 488.2 L219.0 488.8 L217.8 485.9" stroke-width="1.20" fill="#fff"/>
<path d="M217.0 489.3 L215.1 489.5 L219.3 488.9 L221.2 488.7 Z" stroke-width="1.20" fill="#fff"/>
<path d="M216.8 486.1 L217.0 489.3 L215.1 489.5 L214.2 486.4" stroke-width="1.20" fill="#fff"/>
<path d="M191.6 405.0 L193.3 404.0 L197.4 403.4 L195.8 404.5 Z" stroke-width="1.20" fill="#fff"/>
<path d="M192.4 408.1 L191.6 405.0 L193.3 404.0 L194.7 406.7" stroke-width="1.20" fill="#fff"/>
<path d="M195.2 403.0 L197.0 402.4 L201.2 401.9 L199.3 402.5 Z" stroke-width="1.20" fill="#fff"/>
<path d="M195.6 406.2 L195.2 403.0 L197.0 402.4 L198.2 405.3" stroke-width="1.20" fill="#fff"/>
<path d="M199.0 401.9 L200.9 401.7 L205.1 401.2 L203.2 401.4 Z" stroke-width="1.20" fill="#fff"/>
<path d="M199.2 405.1 L199.0 401.9 L200.9 401.7 L201.8 404.8" stroke-width="1.20" fill="#fff"/>
<path d="M203.0 401.7 L205.0 401.9 L209.1 401.4 L207.2 401.2 Z" stroke-width="1.20" fill="#fff"/>
<path d="M202.9 404.8 L203.0 401.7 L205.0 401.9 L205.6 405.1" stroke-width="1.20" fill="#fff"/>
<path d="M207.1 402.4 L209.1 403.0 L213.3 402.5 L211.3 401.9 Z" stroke-width="1.20" fill="#fff"/>
<path d="M206.7 405.3 L207.1 402.4 L209.1 403.0 L209.5 406.2" stroke-width="1.20" fill="#fff"/>
<path d="M211.2 404.0 L213.2 405.0 L217.4 404.5 L215.4 403.4 Z" stroke-width="1.20" fill="#fff"/>
<path d="M210.6 406.6 L211.2 404.0 L213.2 405.0 L213.3 408.1" stroke-width="1.20" fill="#fff"/>
<path d="M215.3 406.4 L217.2 407.8 L221.4 407.3 L219.5 405.8 Z" stroke-width="1.20" fill="#fff"/>
<path d="M214.3 408.8 L215.3 406.4 L217.2 407.8 L217.0 410.8" stroke-width="1.20" fill="#fff"/>
<path d="M219.2 409.6 L221.0 411.4 L225.2 410.8 L223.4 409.0 Z" stroke-width="1.20" fill="#fff"/>
<path d="M218.0 411.7 L219.2 409.6 L221.0 411.4 L220.5 414.2" stroke-width="1.20" fill="#fff"/>
<path d="M222.9 413.5 L224.6 415.6 L228.8 415.1 L227.1 412.9 Z" stroke-width="1.20" fill="#fff"/>
<path d="M221.5 415.3 L222.9 413.5 L224.6 415.6 L223.8 418.2" stroke-width="1.20" fill="#fff"/>
<path d="M226.3 418.1 L227.8 420.5 L232.0 419.9 L230.5 417.5 Z" stroke-width="1.20" fill="#fff"/>
<path d="M224.7 419.5 L226.3 418.1 L227.8 420.5 L226.7 422.8" stroke-width="1.20" fill="#fff"/>
<path d="M229.3 423.2 L230.6 425.9 L234.8 425.3 L233.5 422.7 Z" stroke-width="1.20" fill="#fff"/>
<path d="M227.5 424.2 L229.3 423.2 L230.6 425.9 L229.3 427.9" stroke-width="1.20" fill="#fff"/>
<path d="M231.9 428.8 L233.0 431.6 L237.1 431.1 L236.1 428.3 Z" stroke-width="1.20" fill="#fff"/>
<path d="M229.9 429.4 L231.9 428.8 L233.0 431.6 L231.4 433.3" stroke-width="1.20" fill="#fff"/>
<path d="M234.0 434.8 L234.8 437.7 L239.0 437.2 L238.2 434.2 Z" stroke-width="1.20" fill="#fff"/>
<path d="M231.9 434.9 L234.0 434.8 L234.8 437.7 L233.1 439.0" stroke-width="1.20" fill="#fff"/>
<path d="M233.4 439.7 L234.2 440.2 L234.9 440.7 L235.6 441.2 L235.7 441.8 L235.8 442.4 L235.9 443.1 L236.1 443.7 L235.6 444.3 L235.0 445.0 L234.5 445.6 L235.2 446.2 L235.9 446.8 L236.6 447.5 L236.6 448.1 L236.7 448.7 L236.8 449.3 L236.8 450.0 L236.2 450.5 L235.6 451.0 L235.0 451.4 L235.7 452.1 L236.4 452.9 L237.0 453.7 L237.0 454.3 L237.0 454.9 L237.0 455.5 L237.0 456.1 L236.3 456.5 L235.7 456.8 L235.0 457.1 L235.6 458.0 L236.2 458.9 L236.8 459.7 L236.7 460.3 L236.7 460.9 L236.6 461.5 L236.5 462.1 L235.9 462.3 L235.2 462.5 L234.5 462.6 L235.0 463.6 L235.5 464.5 L236.0 465.5 L235.9 466.1 L235.8 466.6 L235.7 467.2 L235.5 467.7 L234.8 467.8 L234.1 467.8 L233.4 467.8 L233.8 468.8 L234.3 469.8 L234.7 470.9 L234.5 471.4 L234.3 471.9 L234.1 472.4 L234.0 472.9 L233.2 472.8 L232.5 472.6 L231.7 472.5 L232.1 473.6 L232.5 474.7 L232.8 475.7 L232.5 476.2 L232.3 476.6 L232.1 477.1 L231.9 477.5 L231.1 477.3 L230.4 476.9 L229.6 476.6 L229.9 477.7 L230.2 478.9 L230.4 480.0 L230.1 480.4 L229.8 480.7 L229.6 481.1 L229.3 481.5 L228.6 481.1 L227.8 480.6 L227.1 480.1 L227.3 481.3 L227.4 482.4 L227.5 483.5 L227.2 483.8 L226.9 484.1 L226.6 484.4 L226.3 484.7 L225.6 484.2 L224.9 483.6 L224.2 482.9 L224.2 484.1 L224.3 485.2 L224.3 486.3 L223.9 486.5 L223.6 486.7 L223.2 486.9 L222.9 487.2 L222.2 486.5 L221.6 485.7 L220.9 485.0 L220.9 486.1 L220.8 487.2 L220.7 488.2 L220.3 488.4 L219.9 488.5 L219.6 488.6 L219.2 488.7 L218.6 488.0 L218.0 487.1 L217.4 486.2 L217.2 487.3 L217.1 488.3 L216.9 489.3 L216.5 489.3 L216.1 489.4 L215.7 489.4 L215.3 489.5 L214.7 488.6 L214.2 487.6 L213.7 486.7 L213.4 487.6 L213.1 488.6 L212.8 489.5 L212.4 489.4 L212.0 489.4 L211.6 489.3 L211.2 489.3 L210.7 488.3 L210.3 487.3 L209.8 486.2 L209.5 487.1 L209.1 488.0 L208.7 488.8 L208.3 488.6 L207.9 488.5 L207.5 488.4 L207.1 488.2 L206.7 487.2 L206.3 486.1 L206.0 485.0 L205.5 485.8 L205.1 486.5 L204.6 487.2 L204.2 487.0 L203.8 486.7 L203.4 486.5 L203.0 486.3 L202.7 485.2 L202.4 484.1 L202.1 483.0 L201.6 483.6 L201.1 484.2 L200.5 484.7 L200.1 484.4 L199.7 484.2 L199.3 483.8 L199.0 483.5 L198.8 482.4 L198.6 481.3 L198.4 480.2 L197.8 480.6 L197.2 481.1 L196.6 481.5 L196.2 481.1 L195.9 480.8 L195.5 480.4 L195.1 480.0 L195.0 478.9 L195.0 477.8 L194.9 476.6 L194.3 477.0 L193.6 477.3 L193.0 477.5 L192.6 477.1 L192.2 476.7 L191.9 476.2 L191.6 475.8 L191.6 474.7 L191.6 473.6 L191.7 472.5 L191.0 472.7 L190.3 472.8 L189.6 472.9 L189.3 472.4 L188.9 471.9 L188.6 471.4 L188.3 470.9 L188.4 469.9 L188.6 468.8 L188.8 467.8 L188.0 467.8 L187.3 467.8 L186.6 467.8 L186.3 467.2 L186.0 466.7 L185.8 466.1 L185.5 465.6 L185.7 464.6 L186.0 463.6 L186.3 462.7 L185.5 462.5 L184.8 462.4 L184.0 462.1 L183.8 461.6 L183.6 461.0 L183.3 460.4 L183.1 459.8 L183.4 458.9 L183.8 458.0 L184.2 457.2 L183.4 456.9 L182.7 456.6 L182.0 456.2 L181.8 455.6 L181.6 455.0 L181.4 454.3 L181.3 453.7 L181.7 453.0 L182.1 452.2 L182.6 451.5 L181.8 451.0 L181.1 450.5 L180.4 450.0 L180.3 449.4 L180.2 448.8 L180.1 448.1 L179.9 447.5 L180.4 446.9 L181.0 446.2 L181.5 445.6 L180.8 445.0 L180.1 444.4 L179.4 443.7 L179.4 443.1 L179.3 442.5 L179.2 441.9 L179.2 441.2 L179.8 440.7 L180.4 440.2 L181.0 439.8 L180.3 439.1 L179.6 438.3 L179.0 437.5 L179.0 436.9 L179.0 436.3 L179.0 435.7 L179.0 435.1 L179.7 434.7 L180.3 434.4 L181.0 434.1 L180.4 433.2 L179.8 432.3 L179.2 431.5 L179.3 430.9 L179.3 430.3 L179.4 429.7 L179.5 429.1 L180.1 428.9 L180.8 428.7 L181.5 428.6 L181.0 427.6 L180.5 426.7 L180.0 425.7 L180.1 425.1 L180.2 424.6 L180.3 424.0 L180.5 423.5 L181.2 423.4 L181.9 423.4 L182.6 423.4 L182.2 422.4 L181.7 421.4 L181.3 420.3 L181.5 419.8 L181.7 419.3 L181.9 418.8 L182.0 418.3 L182.8 418.4 L183.5 418.6 L184.3 418.7 L183.9 417.6 L183.5 416.5 L183.2 415.5 L183.5 415.0 L183.7 414.6 L183.9 414.1 L184.1 413.7 L184.9 413.9 L185.6 414.3 L186.4 414.6 L186.1 413.5 L185.8 412.3 L185.6 411.2 L185.9 410.8 L186.2 410.5 L186.4 410.1 L186.7 409.7 L187.4 410.1 L188.2 410.6 L188.9 411.1 L188.7 409.9 L188.6 408.8 L188.5 407.7 L188.8 407.4 L189.1 407.1 L189.4 406.8 L189.7 406.5 L190.4 407.0 L191.1 407.6 L191.8 408.3 L191.8 407.1 L191.7 406.0 L191.7 404.9 L192.1 404.7 L192.4 404.5 L192.8 404.3 L193.1 404.0 L193.8 404.7 L194.4 405.5 L195.1 406.2 L195.1 405.1 L195.2 404.0 L195.3 403.0 L195.7 402.8 L196.1 402.7 L196.4 402.6 L196.8 402.5 L197.4 403.2 L198.0 404.1 L198.6 405.0 L198.8 403.9 L198.9 402.9 L199.1 401.9 L199.5 401.9 L199.9 401.8 L200.3 401.8 L200.7 401.7 L201.3 402.6 L201.8 403.6 L202.3 404.5 L202.6 403.6 L202.9 402.6 L203.2 401.7 L203.6 401.8 L204.0 401.8 L204.4 401.9 L204.8 401.9 L205.3 402.9 L205.7 403.9 L206.2 405.0 L206.5 404.1 L206.9 403.2 L207.3 402.4 L207.7 402.6 L208.1 402.7 L208.5 402.8 L208.9 403.0 L209.3 404.0 L209.7 405.1 L210.0 406.2 L210.5 405.4 L210.9 404.7 L211.4 404.0 L211.8 404.2 L212.2 404.5 L212.6 404.7 L213.0 404.9 L213.3 406.0 L213.6 407.1 L213.9 408.2 L214.4 407.6 L214.9 407.0 L215.5 406.5 L215.9 406.8 L216.3 407.0 L216.7 407.4 L217.0 407.7 L217.2 408.8 L217.4 409.9 L217.6 411.0 L218.2 410.6 L218.8 410.1 L219.4 409.7 L219.8 410.1 L220.1 410.4 L220.5 410.8 L220.9 411.2 L221.0 412.3 L221.0 413.4 L221.1 414.6 L221.7 414.2 L222.4 413.9 L223.0 413.7 L223.4 414.1 L223.8 414.5 L224.1 415.0 L224.4 415.4 L224.4 416.5 L224.4 417.6 L224.3 418.7 L225.0 418.5 L225.7 418.4 L226.4 418.3 L226.7 418.8 L227.1 419.3 L227.4 419.8 L227.7 420.3 L227.6 421.3 L227.4 422.4 L227.2 423.4 L228.0 423.4 L228.7 423.4 L229.4 423.4 L229.7 424.0 L230.0 424.5 L230.2 425.1 L230.5 425.6 L230.3 426.6 L230.0 427.6 L229.7 428.5 L230.5 428.7 L231.2 428.8 L232.0 429.1 L232.2 429.6 L232.4 430.2 L232.7 430.8 L232.9 431.4 L232.6 432.3 L232.2 433.2 L231.8 434.0 L232.6 434.3 L233.3 434.6 L234.0 435.0 L234.2 435.6 L234.4 436.2 L234.6 436.9 L234.7 437.5 L234.3 438.2 L233.9 439.0 Z" stroke-width="1.50" fill="#fff"/>
<path d="M231.6 440.6 L232.3 444.1 L232.7 447.7 L233.0 451.2 L232.9 454.7 L232.7 458.0 L232.2 461.3 L231.5 464.3 L230.5 467.2 L229.4 469.8 L228.0 472.1 L226.5 474.2 L224.8 475.9 L222.9 477.3 L220.9 478.3 L218.8 479.0 L216.6 479.3 L214.3 479.3 L212.0 478.8 L209.7 478.0 L207.5 476.9 L205.2 475.4 L203.0 473.5 L200.9 471.4 L198.9 469.0 L197.1 466.3 L195.4 463.3 L193.9 460.2 L192.5 457.0 L191.4 453.5 L190.4 450.0 L189.7 446.5 L189.3 442.9 L189.0 439.4 L189.1 435.9 L189.3 432.6 L189.8 429.3 L190.5 426.3 L191.5 423.4 L192.6 420.8 L194.0 418.5 L195.5 416.4 L197.2 414.7 L199.1 413.3 L201.1 412.3 L203.2 411.6 L205.4 411.3 L207.7 411.3 L210.0 411.8 L212.3 412.6 L214.5 413.7 L216.8 415.2 L219.0 417.1 L221.1 419.2 L223.1 421.6 L224.9 424.3 L226.6 427.3 L228.1 430.4 L229.5 433.6 L230.6 437.1 Z" stroke-width="1.60" />
<path d="M222.1 475.8 L221.5 476.1 L220.9 476.4 L220.2 476.7 L219.6 476.9 L218.9 477.1 L218.3 477.2 L217.6 477.3 L216.9 477.3 L216.2 477.4 L215.5 477.3 L214.8 477.3 L214.1 477.2 L213.4 477.0 L212.7 476.9 L212.0 476.6 L211.3 476.4 L210.6 476.1 L209.9 475.8 L209.2 475.4 L208.5 475.0 L207.8 474.6 L207.1 474.1 L206.4 473.6 L205.7 473.0 L205.1 472.4 L204.4 471.8 L203.7 471.2 L203.1 470.5 L202.5 469.8 L201.8 469.1 L201.2 468.3 L200.6 467.5 L200.0 466.7 L199.5 465.8 L198.9 465.0 L198.4 464.1 L197.8 463.1 L197.3 462.2 L196.8 461.2 L196.3 460.3 L195.9 459.3 L195.5 458.3 L195.0 457.2 L194.6 456.2 L194.3 455.1 L193.9 454.0 L193.6 453.0 L193.3 451.9 L193.0 450.8 L192.7 449.7 L192.5 448.6 L192.2 447.4 L192.0 446.3 L191.9 445.2 L191.7 444.1 L191.6 443.0 L191.5 441.8 L191.4 440.7 L191.4 439.6 L191.3 438.5" stroke-width="0.90" />
<path d="M194.2 419.9 L194.8 419.0 L195.4 418.1 L196.1 417.2 L196.8 416.5 L197.5 415.7 L198.3 415.1 L199.1 414.5 L199.9 414.0 L200.8 413.5 L201.6 413.1 L202.5 412.8 L203.4 412.6" stroke-width="2.60" />
<path d="M220.3 443.9 L220.6 445.2 L220.9 446.5 L221.1 447.9 L221.1 449.2 L221.1 450.4 L221.0 451.7 L220.8 452.8 L220.6 453.9 L220.2 454.9 L219.8 455.8 L219.2 456.6 L218.7 457.2 L218.0 457.8 L217.3 458.2 L216.6 458.5 L215.8 458.6 L215.0 458.7 L214.2 458.5 L213.3 458.3 L212.5 457.9 L211.6 457.3 L210.8 456.7 L210.0 455.9 L209.2 455.0 L208.5 454.1 L207.8 453.0 L207.2 451.9 L206.6 450.6 L206.1 449.4 L205.7 448.1 L205.4 446.8 L205.1 445.5 L204.9 444.1 L204.9 442.8 L204.9 441.6 L205.0 440.3 L205.2 439.2 L205.4 438.1 L205.8 437.1 L206.2 436.2 L206.8 435.4 L207.3 434.8 L208.0 434.2 L208.7 433.8 L209.4 433.5 L210.2 433.4 L211.0 433.3 L211.8 433.5 L212.7 433.7 L213.5 434.1 L214.4 434.7 L215.2 435.3 L216.0 436.1 L216.8 437.0 L217.5 437.9 L218.2 439.0 L218.8 440.1 L219.4 441.4 L219.9 442.6 Z" stroke-width="1.60" />
<path d="M214.8 460.0 L214.3 460.0 L213.8 460.0 L213.2 460.0 L212.7 459.9 L212.1 459.7 L211.5 459.5 L211.0 459.3 L210.4 459.0 L209.9 458.7 L209.3 458.3 L208.8 457.8 L208.3 457.4 L207.8 456.8 L207.3 456.3 L206.8 455.7 L206.3 455.1 L205.9 454.4 L205.4 453.7 L205.0 453.0 L204.6 452.3 L204.3 451.5 L203.9 450.8 L203.6 450.0 L203.4 449.1 L203.1 448.3 L202.9 447.5 L202.7 446.7 L202.6 445.8 L202.4 445.0 L202.3 444.2 L202.3 443.3 L202.3 442.5 L202.3 441.7 L202.3 440.9 L202.4 440.1 L202.5 439.4 L202.6 438.7 L202.8 438.0 L203.0 437.3 L203.2 436.6 L203.5 436.0 L203.8 435.5 L204.1 434.9 L204.5 434.4 L204.8 434.0 L205.2 433.6 L205.6 433.2 L206.1 432.9 L206.5 432.6 L207.0 432.4 L207.5 432.2 L208.0 432.1 L208.5 432.0 L209.1 431.9 L209.6 432.0 L210.2 432.0 L210.7 432.2 L211.3 432.3 L211.8 432.5 L212.4 432.8" stroke-width="1.20" />
<path d="M214.5 435.5 L214.8 435.7 L215.1 435.9 L215.4 436.2 L215.7 436.4 L216.1 436.7 L216.4 437.1 L216.7 437.4 L217.0 437.7 L217.3 438.1 L217.6 438.5 L217.8 438.9 L218.1 439.3 L218.4 439.8 L218.6 440.2 L218.9 440.7 L219.1 441.1 L219.3 441.6 L219.5 442.1 L219.7 442.6 L219.9 443.1 L220.1 443.6 L220.3 444.2 L220.4 444.7 L220.6 445.2 L220.7 445.8 L220.8 446.3 L220.9 446.8 L221.0 447.4 L221.0 447.9 L221.1 448.4 L221.1 448.9 L221.2 449.5 L221.2 450.0 L221.2 450.5 L221.1 451.0 L221.1 451.4 L221.0 451.9 L221.0 452.4 L220.9 452.8 L220.8 453.2 L220.7 453.7 L220.6 454.1 L220.4 454.4 L220.3 454.8 L220.1 455.1 L219.9 455.5 L219.7 455.8 L219.5 456.1 L219.3 456.3 L219.1 456.6 L218.8 456.8 L218.6 457.0 L218.3 457.1 L218.1 457.3 L217.8 457.4 L217.5 457.5 L217.2 457.6 L216.9 457.6 L216.6 457.7 L216.3 457.7" stroke-width="1.00" />
<path d="M204.2 427.2 L204.8 427.5 L205.3 428.1 L205.6 428.9 L205.6 429.8 L205.3 430.5 L204.8 430.8 L204.1 430.6 L203.6 430.1" stroke-width="1.40" />
<path d="M211.8 427.8 L212.4 428.1 L212.9 428.7 L213.2 429.5 L213.2 430.4 L212.9 431.1 L212.4 431.4 L211.7 431.2 L211.2 430.7" stroke-width="1.40" />
<path d="M218.8 433.8 L219.4 434.1 L219.9 434.7 L220.2 435.5 L220.2 436.4 L219.9 437.1 L219.4 437.4 L218.7 437.2 L218.2 436.7" stroke-width="1.40" />
<path d="M199.4 439.8 L200.0 440.1 L200.5 440.7 L200.8 441.5 L200.8 442.4 L200.5 443.1 L200.0 443.4 L199.3 443.2 L198.8 442.7" stroke-width="1.40" />
<path d="M205.8 455.8 L206.4 456.1 L206.9 456.7 L207.2 457.5 L207.2 458.4 L206.9 459.1 L206.4 459.4 L205.7 459.2 L205.2 458.7" stroke-width="1.40" />
<path d="M218.8 461.8 L219.4 462.1 L219.9 462.7 L220.2 463.5 L220.2 464.4 L219.9 465.1 L219.4 465.4 L218.7 465.2 L218.2 464.7" stroke-width="1.40" />
<path d="M224.8 452.2 L225.4 452.5 L225.9 453.1 L226.2 453.9 L226.2 454.8 L225.9 455.5 L225.4 455.8 L224.7 455.6 L224.2 455.1" stroke-width="1.40" />
<path d="M118.3 459.9 L119.0 459.5 L119.7 459.3 L120.4 459.1 L121.2 459.0 L122.0 459.0 L122.7 459.0 L123.5 459.1 L124.3 459.2 L125.1 459.5 L126.0 459.8 L126.8 460.2 L127.6 460.6 L128.4 461.1 L129.2 461.7 L130.1 462.3 L130.9 463.0 L131.7 463.7 L132.4 464.5 L133.2 465.3 L133.9 466.2 L134.7 467.2 L135.3 468.2 L136.0 469.2 L136.7 470.3 L137.3 471.4 L137.9 472.5 L138.4 473.7 L138.9 474.9 L139.4 476.1 L139.9 477.3 L140.3 478.5 L140.6 479.8 L141.0 481.0 L141.2 482.3 L141.5 483.6 L141.7 484.8 L141.8 486.0 L141.9 487.3 L142.0 488.5 L142.0 489.7 L142.0 490.8 L141.9 492.0 L141.8 493.1 L141.6 494.2 L141.4 495.2 L141.1 496.2 L140.8 497.1 L140.5 498.0 L140.1 498.9 L139.7 499.7 L139.2 500.4 L138.7 501.1 L138.2 501.7 L137.6 502.3 L137.0 502.8 L136.4 503.2 L135.8 503.6 L135.1 503.9 L134.4 504.1 L133.6 504.3" stroke-width="1.20" />
<path d="M138.3 477.8 L139.0 480.2 L139.6 482.5 L140.0 484.9 L140.3 487.3 L140.4 489.6 L140.3 491.8 L140.1 493.9 L139.8 495.8 L139.2 497.7 L138.5 499.3 L137.7 500.8 L136.8 502.1 L135.7 503.1 L134.5 503.9 L133.2 504.5 L131.8 504.9 L130.4 504.9 L128.9 504.8 L127.3 504.4 L125.8 503.7 L124.2 502.8 L122.7 501.7 L121.2 500.4 L119.7 498.9 L118.3 497.2 L117.0 495.3 L115.7 493.3 L114.6 491.1 L113.6 488.9 L112.7 486.6 L112.0 484.2 L111.4 481.9 L111.0 479.5 L110.7 477.1 L110.6 474.8 L110.7 472.6 L110.9 470.5 L111.2 468.6 L111.8 466.7 L112.5 465.1 L113.3 463.6 L114.2 462.3 L115.3 461.3 L116.5 460.5 L117.8 459.9 L119.2 459.5 L120.6 459.5 L122.1 459.6 L123.7 460.0 L125.2 460.7 L126.8 461.6 L128.3 462.7 L129.8 464.0 L131.3 465.5 L132.7 467.2 L134.0 469.1 L135.3 471.1 L136.4 473.3 L137.4 475.5 Z" stroke-width="1.30" fill="#fff"/>
<path d="M131.9 480.2 L132.4 481.7 L132.7 483.2 L133.0 484.6 L133.3 486.1 L133.4 487.5 L133.4 488.8 L133.3 490.1 L133.2 491.3 L132.9 492.4 L132.6 493.4 L132.2 494.3 L131.7 495.1 L131.1 495.7 L130.5 496.2 L129.8 496.5 L129.0 496.7 L128.2 496.7 L127.4 496.6 L126.6 496.3 L125.7 495.8 L124.8 495.2 L123.9 494.5 L123.1 493.7 L122.2 492.7 L121.4 491.6 L120.6 490.4 L119.9 489.2 L119.2 487.8 L118.6 486.4 L118.1 485.0 L117.6 483.5 L117.3 482.0 L117.0 480.6 L116.7 479.1 L116.6 477.7 L116.6 476.4 L116.7 475.1 L116.8 473.9 L117.1 472.8 L117.4 471.8 L117.8 470.9 L118.3 470.1 L118.9 469.5 L119.5 469.0 L120.2 468.7 L121.0 468.5 L121.8 468.5 L122.6 468.6 L123.4 468.9 L124.3 469.4 L125.2 470.0 L126.1 470.7 L126.9 471.5 L127.8 472.5 L128.6 473.6 L129.4 474.8 L130.1 476.0 L130.8 477.4 L131.4 478.8 Z" stroke-width="1.20" />
<path d="M123.2 469.4 L123.5 469.4 L123.9 469.5 L124.3 469.6 L124.7 469.7 L125.1 469.9 L125.5 470.2 L125.9 470.4 L126.3 470.7 L126.7 471.1 L127.2 471.4 L127.6 471.8 L128.0 472.3 L128.4 472.7 L128.8 473.2 L129.1 473.8 L129.5 474.3 L129.9 474.9 L130.3 475.5 L130.6 476.1 L130.9 476.7 L131.3 477.4 L131.6 478.1 L131.9 478.8 L132.1 479.5 L132.4 480.2 L132.6 480.9 L132.9 481.6 L133.1 482.3 L133.2 483.0 L133.4 483.7 L133.5 484.5 L133.7 485.2 L133.8 485.9 L133.8 486.6 L133.9 487.2 L133.9 487.9 L133.9 488.5 L133.9 489.2 L133.9 489.8 L133.8 490.3 L133.7 490.9 L133.6 491.4 L133.5 491.9 L133.3 492.4 L133.2 492.9 L133.0 493.3 L132.8 493.7 L132.6 494.0 L132.3 494.3 L132.0 494.6 L131.8 494.8 L131.5 495.0 L131.1 495.2 L130.8 495.3 L130.5 495.4 L130.1 495.4 L129.8 495.4 L129.4 495.4 L129.0 495.3 L128.6 495.2" stroke-width="1.00" />
<path d="M116.2 462.8 L116.7 463.2 L117.1 463.9 L117.3 464.7 L117.2 465.4 L116.8 465.8 L116.3 465.8 L115.8 465.5 L115.4 464.9" stroke-width="1.10" />
<path d="M128.9 467.8 L129.4 468.2 L129.8 468.9 L130.0 469.7 L129.9 470.4 L129.5 470.8 L129.0 470.8 L128.5 470.5 L128.1 469.9" stroke-width="1.10" />
<path d="M112.5 475.0 L113.0 475.4 L113.4 476.1 L113.6 476.9 L113.5 477.6 L113.1 478.0 L112.6 478.0 L112.1 477.7 L111.7 477.1" stroke-width="1.10" />
<path d="M135.1 487.1 L135.6 487.5 L136.0 488.2 L136.2 489.0 L136.1 489.7 L135.7 490.1 L135.2 490.1 L134.7 489.8 L134.3 489.2" stroke-width="1.10" />
<path d="M119.4 490.7 L119.9 491.1 L120.3 491.8 L120.5 492.6 L120.4 493.3 L120.0 493.7 L119.5 493.7 L119.0 493.4 L118.6 492.8" stroke-width="1.10" />
<path d="M131.8 498.6 L132.3 499.0 L132.7 499.7 L132.9 500.5 L132.8 501.2 L132.4 501.6 L131.9 501.6 L131.4 501.3 L131.0 500.7" stroke-width="1.10" />
<path d="M91.7 472.0 L92.4 471.7 L93.2 471.5 L93.9 471.3 L94.7 471.2 L95.5 471.1 L96.3 471.2 L97.1 471.3 L97.9 471.4 L98.7 471.7 L99.6 472.0 L100.4 472.4 L101.2 472.8 L102.1 473.3 L102.9 473.9 L103.7 474.5 L104.5 475.2 L105.3 475.9 L106.1 476.7 L106.8 477.6 L107.6 478.5 L108.3 479.4 L109.0 480.4 L109.6 481.4 L110.2 482.5 L110.8 483.6 L111.4 484.7 L111.9 485.9 L112.4 487.1 L112.9 488.3 L113.3 489.5 L113.7 490.7 L114.0 492.0 L114.3 493.2 L114.6 494.5 L114.8 495.7 L115.0 497.0 L115.1 498.2 L115.1 499.4 L115.2 500.6 L115.1 501.8 L115.1 503.0 L115.0 504.1 L114.8 505.2 L114.6 506.3 L114.4 507.3 L114.1 508.3 L113.7 509.2 L113.4 510.1 L112.9 511.0 L112.5 511.8 L112.0 512.5 L111.5 513.2 L110.9 513.8 L110.3 514.4 L109.7 514.9 L109.0 515.3 L108.3 515.6 L107.6 515.9 L106.9 516.2 L106.2 516.3" stroke-width="1.20" />
<path d="M111.8 490.0 L112.5 492.4 L113.0 494.7 L113.4 497.1 L113.6 499.4 L113.7 501.7 L113.5 503.9 L113.3 506.0 L112.8 508.0 L112.2 509.8 L111.5 511.4 L110.6 512.9 L109.6 514.1 L108.4 515.2 L107.2 516.0 L105.8 516.6 L104.4 516.9 L102.9 517.0 L101.4 516.8 L99.8 516.4 L98.3 515.7 L96.7 514.8 L95.1 513.7 L93.6 512.4 L92.2 510.9 L90.8 509.1 L89.5 507.3 L88.3 505.3 L87.2 503.1 L86.2 500.9 L85.4 498.6 L84.7 496.2 L84.2 493.9 L83.8 491.5 L83.6 489.2 L83.5 486.9 L83.7 484.7 L83.9 482.6 L84.4 480.6 L85.0 478.8 L85.7 477.2 L86.6 475.7 L87.6 474.5 L88.8 473.4 L90.0 472.6 L91.4 472.0 L92.8 471.7 L94.3 471.6 L95.8 471.8 L97.4 472.2 L98.9 472.9 L100.5 473.8 L102.1 474.9 L103.6 476.2 L105.0 477.7 L106.4 479.5 L107.7 481.3 L108.9 483.3 L110.0 485.5 L111.0 487.7 Z" stroke-width="1.30" fill="#fff"/>
<path d="M109.1 491.1 L109.0 492.0 L108.6 493.0 L108.1 493.8 L107.6 494.5 L107.1 495.2 L106.6 495.7 L106.3 496.2 L106.1 496.7 L106.2 497.2 L106.4 497.9 L106.9 498.7 L107.4 499.6 L108.1 500.7 L108.7 501.9 L109.2 503.1 L109.6 504.3 L109.7 505.4 L109.6 506.2 L109.3 506.8 L108.8 507.2 L108.1 507.2 L107.3 506.9 L106.4 506.5 L105.5 505.9 L104.7 505.3 L104.0 504.8 L103.5 504.5 L103.1 504.4 L102.8 504.6 L102.6 505.1 L102.5 505.9 L102.3 506.8 L102.1 507.9 L101.9 509.0 L101.6 510.0 L101.1 510.8 L100.6 511.2 L100.0 511.3 L99.4 511.1 L98.8 510.4 L98.3 509.5 L97.8 508.3 L97.4 507.0 L97.0 505.7 L96.8 504.5 L96.6 503.4 L96.3 502.6 L96.1 502.0 L95.7 501.7 L95.3 501.5 L94.7 501.5 L94.0 501.5 L93.2 501.5 L92.3 501.4 L91.5 501.2 L90.7 500.8 L90.0 500.2 L89.5 499.4 L89.2 498.5 L89.1 497.5 L89.2 496.6 L89.6 495.6 L90.1 494.8 L90.6 494.1 L91.1 493.4 L91.6 492.9 L91.9 492.4 L92.1 491.9 L92.0 491.4 L91.8 490.7 L91.3 489.9 L90.8 489.0 L90.1 487.9 L89.5 486.7 L89.0 485.5 L88.6 484.3 L88.5 483.2 L88.6 482.4 L88.9 481.8 L89.4 481.4 L90.1 481.4 L90.9 481.7 L91.8 482.1 L92.7 482.7 L93.5 483.3 L94.2 483.8 L94.7 484.1 L95.1 484.2 L95.4 484.0 L95.6 483.5 L95.7 482.7 L95.9 481.8 L96.1 480.7 L96.3 479.6 L96.6 478.6 L97.1 477.8 L97.6 477.4 L98.2 477.3 L98.8 477.5 L99.4 478.2 L99.9 479.1 L100.4 480.3 L100.8 481.6 L101.2 482.9 L101.4 484.1 L101.6 485.2 L101.9 486.0 L102.1 486.6 L102.5 486.9 L102.9 487.1 L103.5 487.1 L104.2 487.1 L105.0 487.1 L105.9 487.2 L106.7 487.4 L107.5 487.8 L108.2 488.4 L108.7 489.2 L109.0 490.1 Z" stroke-width="1.20" />
<path d="M111.0 491.1 L111.5 491.9 L111.6 492.9 L111.5 493.6 L111.0 494.1 L110.4 494.2 L109.8 493.7 L109.3 493.0 L109.1 492.1" stroke-width="1.10" />
<path d="M109.6 508.2 L110.1 509.0 L110.2 509.9 L110.1 510.7 L109.6 511.2 L109.0 511.2 L108.4 510.8 L107.9 510.1 L107.7 509.1" stroke-width="1.10" />
<path d="M98.2 510.1 L98.6 511.0 L98.8 511.9 L98.6 512.7 L98.2 513.1 L97.6 513.2 L96.9 512.8 L96.5 512.0 L96.2 511.1" stroke-width="1.10" />
<path d="M88.2 495.0 L88.6 495.8 L88.7 496.8 L88.6 497.5 L88.2 498.0 L87.5 498.1 L86.9 497.6 L86.4 496.9 L86.2 496.0" stroke-width="1.10" />
<path d="M89.6 478.0 L90.0 478.8 L90.2 479.7 L90.0 480.5 L89.6 481.0 L88.9 481.0 L88.3 480.6 L87.8 479.8 L87.6 478.9" stroke-width="1.10" />
<path d="M101.0 476.0 L101.4 476.8 L101.6 477.7 L101.4 478.5 L101.0 479.0 L100.4 479.0 L99.8 478.6 L99.3 477.9 L99.0 477.0" stroke-width="1.10" />
<path d="M83.1 519.9 L83.2 520.2 L83.3 520.6 L83.4 520.9 L83.4 521.2 L83.4 521.6 L83.3 521.9 L83.3 522.2 L83.2 522.5 L83.0 522.8 L82.9 523.0 L82.7 523.3 L82.5 523.5 L82.3 523.6 L82.1 523.8 L81.8 523.9 L81.6 524.0 L81.3 524.0 L81.0 524.0 L80.7 524.0 L80.5 523.9 L80.2 523.8 L79.9 523.7 L79.6 523.5 L79.4 523.3 L79.1 523.1 L78.9 522.9 L78.7 522.6 L78.5 522.3 L78.4 522.0 L78.3 521.7 L78.2 521.4 L78.1 521.0 L78.0 520.7 L78.0 520.4 L78.0 520.0 L78.1 519.7 L78.1 519.4 L78.2 519.1 L78.4 518.8 L78.5 518.6 L78.7 518.3 L78.9 518.1 L79.1 518.0 L79.3 517.8 L79.6 517.7 L79.8 517.6 L80.1 517.6 L80.4 517.6 L80.7 517.6 L80.9 517.7 L81.2 517.8 L81.5 517.9 L81.8 518.1 L82.0 518.3 L82.3 518.5 L82.5 518.7 L82.7 519.0 L82.9 519.3 L83.0 519.6 Z" stroke-width="1.30" />
<path d="M82.0 520.4 L82.1 520.5 L82.1 520.7 L82.1 520.9 L82.2 521.0 L82.2 521.2 L82.1 521.4 L82.1 521.5 L82.1 521.6 L82.0 521.8 L81.9 521.9 L81.9 522.0 L81.8 522.1 L81.7 522.2 L81.6 522.3 L81.4 522.3 L81.3 522.3 L81.2 522.4 L81.1 522.4 L80.9 522.3 L80.8 522.3 L80.7 522.3 L80.6 522.2 L80.4 522.1 L80.3 522.0 L80.2 521.9 L80.1 521.8 L80.0 521.7 L79.9 521.5 L79.8 521.4 L79.8 521.2 L79.7 521.1 L79.7 520.9 L79.7 520.7 L79.6 520.6 L79.6 520.4 L79.7 520.2 L79.7 520.1 L79.7 520.0 L79.8 519.8 L79.9 519.7 L79.9 519.6 L80.0 519.5 L80.1 519.4 L80.2 519.3 L80.4 519.3 L80.5 519.3 L80.6 519.2 L80.7 519.2 L80.9 519.3 L81.0 519.3 L81.1 519.3 L81.2 519.4 L81.4 519.5 L81.5 519.6 L81.6 519.7 L81.7 519.8 L81.8 519.9 L81.9 520.1 L82.0 520.2 Z" stroke-width="0.90" />
<path d="M82.5 518.2 L92.8 514.2" stroke-width="1.20" />
<path d="M83.6 523.0 L94.2 518.6" stroke-width="1.20" />
<path d="M92.8 514.2 C93.1 514.5 94.2 515.1 94.4 515.8 C94.6 516.5 94.2 518.1 94.2 518.6" stroke-width="1.20" />
<path d="M86.1 516.8 L87.3 521.3" stroke-width="0.80" />
<path d="M87.7 516.2 L88.9 520.7" stroke-width="0.80" />
<path d="M89.2 515.6 L90.4 520.1" stroke-width="0.80" />
<path d="M90.7 515.0 L91.9 519.5" stroke-width="0.80" />
<path d="M92.3 514.4 L93.5 518.9" stroke-width="0.80" />
<path d="M262.2 357.5 C262.5 357.4 263.1 357.2 264.3 356.8 C265.5 356.4 267.6 355.4 269.3 355.4 C271.0 355.4 273.5 356.6 274.3 356.8" stroke-width="1.90" />
<path d="M265.0 358.2 C265.8 358.8 268.4 359.8 270.0 361.5 C271.7 363.1 273.6 365.5 275.0 367.9 C276.5 370.3 277.8 373.1 278.6 375.8 C279.4 378.4 279.8 382.3 280.0 383.6" stroke-width="2.00" />
<path d="M272.2 361.1 C273.0 362.0 275.6 364.1 277.2 366.5 C278.7 368.8 280.5 372.5 281.5 375.0 C282.4 377.5 282.7 380.4 282.9 381.5" stroke-width="1.10" />
<path d="M275.0 360.4 C275.7 361.2 277.9 362.9 279.3 365.0 C280.7 367.1 282.4 370.6 283.3 372.9 C284.1 375.2 284.4 377.7 284.7 378.6" stroke-width="1.10" />
<path d="M276.5 360.4 C277.2 361.3 279.8 363.7 281.1 365.7 C282.4 367.8 283.6 371.0 284.3 372.9 C285.0 374.8 285.2 376.5 285.4 377.2" stroke-width="1.10" />
<path d="M280.0 383.6 L286.5 380.1" stroke-width="1.90" />
<path d="M275.0 385.0 C275.6 385.5 277.8 388.1 278.6 387.9 C279.4 387.7 279.8 384.3 280.0 383.6" stroke-width="1.60" />
<path d="M275.5 356.5 C275.8 355.6 276.8 352.3 277.5 351.0 C278.2 349.7 279.6 348.9 280.0 348.5" stroke-width="1.90" />
<path d="M280.0 348.5 L290.5 345.0" stroke-width="1.90" />
<path d="M290.5 345.0 C291.1 345.4 293.1 346.2 294.2 347.5 C295.3 348.8 296.1 350.8 297.0 353.0 C297.9 355.2 298.8 358.3 299.5 361.0 C300.2 363.7 300.8 366.8 301.0 369.0 C301.2 371.2 300.6 373.2 300.5 374.0" stroke-width="1.90" />
<path d="M300.5 374.0 L288.0 378.5" stroke-width="1.90" />
<path d="M288.0 378.5 C287.8 377.9 286.9 376.1 286.5 375.0 C286.1 373.9 285.7 372.5 285.5 372.0" stroke-width="1.38" />
<path d="M283.5 351.5 C284.1 352.6 286.0 355.2 287.0 358.0 C288.0 360.8 289.1 364.8 289.5 368.0 C289.9 371.2 289.5 375.5 289.5 377.0" stroke-width="1.12" />
<path d="M277.5 358.0 L281.0 358.5" stroke-width="1.25" />
<path d="M297.0 349.5 C297.2 348.6 297.6 345.6 298.5 344.0 C299.4 342.4 301.8 340.7 302.5 340.0" stroke-width="1.90" />
<path d="M302.5 340.0 L312.5 336.0" stroke-width="1.90" />
<path d="M312.5 336.0 C313.1 336.3 314.9 336.8 316.0 338.0 C317.1 339.2 318.0 340.7 319.0 343.0 C320.0 345.3 321.2 349.2 322.0 352.0 C322.8 354.8 323.4 357.7 323.5 360.0 C323.6 362.3 322.7 365.0 322.5 366.0" stroke-width="1.90" />
<path d="M322.5 366.0 C320.4 366.7 313.5 369.1 310.0 370.0 C306.5 370.9 302.9 371.2 301.5 371.5" stroke-width="1.90" />
<path d="M297.0 349.5 L302.0 349.5" stroke-width="1.25" />
<path d="M306.0 341.0 C306.7 342.3 308.9 345.8 310.0 349.0 C311.1 352.2 312.2 356.8 312.5 360.0 C312.8 363.2 312.1 366.7 312.0 368.0" stroke-width="1.12" />
<path d="M319.0 338.5 L334.5 332.5" stroke-width="1.90" />
<path d="M323.5 364.0 L330.0 361.5 L342.5 356.5" stroke-width="1.90" />
<path d="M320.5 342.5 C321.2 343.0 323.8 343.9 325.0 345.5 C326.2 347.1 327.3 349.8 328.0 352.0 C328.7 354.2 329.0 357.4 329.0 359.0 C329.0 360.6 328.2 361.1 328.0 361.5" stroke-width="2.50" />
<path d="M322.0 344.0 C322.6 345.3 324.8 349.2 325.5 352.0 C326.2 354.8 325.9 359.5 326.0 361.0" stroke-width="1.25" />
<path d="M334.5 332.5 C335.4 333.2 338.4 334.8 340.0 337.0 C341.6 339.2 343.1 343.2 344.0 346.0 C344.9 348.8 345.3 352.2 345.5 354.0 C345.7 355.8 345.1 356.1 345.0 356.5" stroke-width="1.50" />
<path d="M338.0 331.5 C338.8 332.2 341.5 333.8 343.0 336.0 C344.5 338.2 346.2 342.5 347.0 345.0 C347.8 347.5 347.8 350.0 347.9 351.0" stroke-width="1.25" />
<path d="M320.0 338.5 L336.0 332.0 L347.0 327.5" stroke-width="1.90" />
<path d="M336.0 332.0 C336.7 332.5 338.7 333.3 340.0 335.0 C341.3 336.7 343.0 339.5 344.0 342.0 C345.0 344.5 345.6 347.7 346.0 350.0 C346.4 352.3 345.8 354.5 346.5 356.0 C347.2 357.5 349.4 358.5 350.0 359.0" stroke-width="1.90" />
<path d="M340.0 333.0 C340.8 334.0 343.5 336.7 345.0 339.0 C346.5 341.3 347.8 344.5 349.0 347.0 C350.2 349.5 351.4 352.1 352.0 354.0 C352.6 355.9 352.4 357.8 352.5 358.5" stroke-width="1.10" />
<path d="M346.5 327.5 C347.2 327.6 349.4 327.1 351.0 328.0 C352.6 328.9 354.5 331.0 356.0 333.0 C357.5 335.0 358.8 337.5 360.0 340.0 C361.2 342.5 362.4 345.8 363.0 348.0 C363.6 350.2 363.7 351.8 363.5 353.0 C363.3 354.2 362.2 355.1 362.0 355.5" stroke-width="1.90" />
<path d="M350.0 359.0 C350.8 358.9 353.0 359.1 355.0 358.5 C357.0 357.9 360.8 356.0 362.0 355.5" stroke-width="1.90" />
<path d="M353.0 327.5 C353.8 326.8 355.7 324.4 357.5 323.5 C359.3 322.6 362.9 322.2 364.0 322.0" stroke-width="1.40" />
<path d="M363.5 347.0 L367.0 345.0" stroke-width="1.90" />
<path d="M356.5 323.0 L371.5 317.5" stroke-width="1.90" />
<path d="M355.0 323.0 C356.5 322.8 361.7 321.2 364.0 322.0 C366.3 322.8 367.7 325.7 369.0 328.0 C370.3 330.3 371.4 333.5 372.0 336.0 C372.6 338.5 372.7 341.2 372.5 343.0 C372.3 344.8 370.8 345.9 371.0 347.0 C371.2 348.1 373.5 349.1 374.0 349.5" stroke-width="1.90" />
<path d="M374.0 349.5 C375.0 349.2 378.2 348.8 380.0 348.0 C381.8 347.2 383.9 346.3 385.0 345.0 C386.1 343.7 386.2 340.8 386.5 340.0" stroke-width="1.90" />
<path d="M371.5 317.5 C372.2 317.8 374.4 318.1 376.0 319.5 C377.6 320.9 379.6 323.6 381.0 326.0 C382.4 328.4 383.7 331.5 384.5 334.0 C385.3 336.5 385.8 339.5 386.0 341.0 C386.2 342.5 385.6 342.7 385.5 343.0" stroke-width="1.90" />
<path d="M366.0 325.5 C366.7 326.4 368.8 328.9 370.0 331.0 C371.2 333.1 372.5 336.8 373.0 338.0" stroke-width="1.20" />
<path d="M374.0 315.5 L396.0 307.0 L409.9 301.5" stroke-width="1.90" />
<path d="M386.0 337.0 L404.0 329.5 L409.9 327.0" stroke-width="1.90" />
<path d="M378.0 316.5 C378.8 317.1 381.6 318.4 383.0 320.0 C384.4 321.6 385.6 323.8 386.5 326.0 C387.4 328.2 388.2 331.3 388.5 333.0 C388.8 334.7 388.1 335.5 388.0 336.0" stroke-width="2.50" />
<path d="M381.0 317.5 C381.7 318.4 383.9 320.9 385.0 323.0 C386.1 325.1 387.1 328.8 387.5 330.0" stroke-width="1.25" />
<path d="M393.2 317.1 L393.2 317.9 L392.8 318.4 L392.2 318.6 L391.6 318.2 L391.2 317.5 L391.2 316.7 L391.6 316.2 L392.2 316.0 L392.8 316.4 Z" stroke-width="1.20" />
<path d="M396.0 307.0 C396.7 307.3 398.7 307.7 400.0 309.0 C401.3 310.3 402.8 312.8 404.0 315.0 C405.2 317.2 406.4 319.8 407.0 322.0 C407.6 324.2 407.4 327.0 407.5 328.0" stroke-width="1.50" />
<path d="M400.0 307.5 C400.7 308.2 402.8 310.1 404.0 312.0 C405.2 313.9 406.7 316.7 407.5 319.0 C408.3 321.3 408.8 324.8 409.0 326.0" stroke-width="1.25" />
<path d="M390.0 307.5 L415.0 297.5" stroke-width="1.90" />
<path d="M396.0 307.5 C396.8 308.1 399.5 309.2 401.0 311.0 C402.5 312.8 404.0 315.5 405.0 318.0 C406.0 320.5 406.7 324.6 407.0 325.9" stroke-width="1.38" />
<path d="M399.0 307.0 C399.8 307.8 402.5 309.5 404.0 312.0 C405.5 314.5 407.3 320.3 408.0 322.0" stroke-width="1.25" />
<path d="M403.0 302.5 C404.0 302.8 407.2 302.8 409.0 304.0 C410.8 305.2 412.7 307.8 414.0 310.0 C415.3 312.2 416.4 315.2 417.0 317.0 C417.6 318.8 417.4 320.3 417.5 321.0" stroke-width="1.90" />
<path d="M415.0 297.5 C416.3 297.8 420.8 297.8 423.0 299.0 C425.2 300.2 426.8 302.7 428.0 305.0 C429.2 307.3 430.2 310.8 430.5 313.0 C430.8 315.2 430.1 317.2 430.0 318.0" stroke-width="1.90" />
<path d="M417.5 321.0 L430.0 316.5" stroke-width="1.90" />
<path d="M422.0 299.5 C422.8 300.4 425.4 302.9 426.5 305.0 C427.6 307.1 428.2 310.8 428.5 312.0" stroke-width="1.25" />
<path d="M415.0 297.5 L432.0 291.0" stroke-width="1.90" />
<path d="M432.0 291.5 C432.8 292.2 435.5 293.9 437.0 296.0 C438.5 298.1 440.1 301.5 441.0 304.0 C441.9 306.5 442.4 309.5 442.5 311.0 C442.6 312.5 441.7 312.7 441.5 313.0" stroke-width="1.90" />
<path d="M433.0 290.0 C433.4 289.8 434.7 289.0 435.5 289.0 C436.3 289.0 437.6 289.8 438.0 290.0" stroke-width="3.25" />
<path d="M440.0 290.0 C440.8 290.7 443.2 292.2 444.5 294.0 C445.8 295.8 446.9 298.5 447.5 301.0 C448.1 303.5 447.9 307.7 448.0 309.0" stroke-width="1.62" />
<path d="M430.0 316.5 L441.5 313.0" stroke-width="1.90" />
<path d="M437.0 289.5 L452.0 283.5" stroke-width="1.90" />
<path d="M441.5 313.0 L460.0 306.5 L469.9 302.0" stroke-width="1.90" />
<path d="M452.0 283.5 C453.0 283.9 456.3 284.6 458.0 286.0 C459.7 287.4 460.9 289.7 462.0 292.0 C463.1 294.3 464.2 298.0 464.5 300.0 C464.8 302.0 464.1 303.3 464.0 304.0" stroke-width="1.90" />
<path d="M459.0 282.5 C459.8 283.4 462.7 285.8 464.0 288.0 C465.3 290.2 466.5 294.7 467.0 296.0" stroke-width="1.25" />
<path d="M452.0 283.5 L469.9 276.5" stroke-width="1.90" />
<path d="M450.0 282.5 L464.0 276.5 L473.0 272.5" stroke-width="1.90" />
<path d="M453.0 282.5 C454.0 282.9 457.0 283.6 459.0 285.0 C461.0 286.4 463.3 288.8 465.0 291.0 C466.7 293.2 468.3 296.8 469.0 298.0" stroke-width="1.50" />
<path d="M456.0 281.5 C457.2 282.1 461.0 283.4 463.0 285.0 C465.0 286.6 466.7 288.8 468.0 291.0 C469.3 293.2 470.5 296.8 471.0 298.0" stroke-width="1.25" />
<path d="M469.0 277.5 C470.2 277.9 474.0 278.6 476.0 280.0 C478.0 281.4 479.8 283.8 481.0 286.0 C482.2 288.2 483.1 291.8 483.5 293.0" stroke-width="1.90" />
<path d="M473.0 272.5 L490.0 266.0" stroke-width="1.90" />
<path d="M475.5 273.0 C476.8 273.7 481.1 275.2 483.0 277.0 C484.9 278.8 486.1 281.5 487.0 284.0 C487.9 286.5 488.2 290.7 488.5 292.0" stroke-width="1.38" />
<path d="M482.0 273.0 C483.3 273.5 487.8 274.5 490.0 276.0 C492.2 277.5 493.8 280.0 495.0 282.0 C496.2 284.0 496.7 287.0 497.0 288.0" stroke-width="1.38" />
<path d="M474.0 299.5 L483.5 294.0 L506.0 285.0" stroke-width="1.90" />
<path d="M491.0 265.5 C492.0 265.8 495.0 265.8 497.0 267.0 C499.0 268.2 501.6 271.0 503.0 273.0 C504.4 275.0 505.0 277.0 505.5 279.0 C506.0 281.0 505.9 284.0 506.0 285.0" stroke-width="2.50" />
<path d="M497.0 265.5 C497.7 266.1 500.0 267.8 501.0 269.0 C502.0 270.2 502.7 272.3 503.0 273.0" stroke-width="1.25" />
<path d="M497.0 263.5 L502.0 261.5" stroke-width="1.90" />
<path d="M506.0 285.0 L529.9 276.0" stroke-width="1.90" />
<path d="M513.0 278.0 C513.2 278.2 514.0 278.6 514.0 279.0 C514.0 279.4 513.3 280.0 513.2 280.2" stroke-width="1.50" />
<path d="M501.5 255.5 C501.4 256.0 500.8 257.7 501.0 258.5 C501.2 259.3 502.2 260.2 502.5 260.5" stroke-width="1.90" />
<path d="M501.5 255.5 C503.4 254.7 509.9 251.2 513.0 250.5 C516.1 249.8 518.8 251.3 520.0 251.5" stroke-width="1.90" />
<path d="M502.5 260.5 C503.8 260.0 507.9 258.1 510.0 257.5 C512.1 256.9 514.2 257.1 515.0 257.0" stroke-width="1.90" />
<path d="M515.0 257.0 C515.8 257.7 518.5 259.2 520.0 261.0 C521.5 262.8 523.1 265.7 524.0 268.0 C524.9 270.3 525.4 273.3 525.5 275.0 C525.6 276.7 524.7 277.5 524.5 278.0" stroke-width="1.90" />
<path d="M518.0 257.5 C518.8 258.2 521.6 259.9 523.0 262.0 C524.4 264.1 525.9 267.5 526.5 270.0 C527.1 272.5 526.5 275.8 526.5 277.0" stroke-width="1.10" />
<path d="M520.0 251.5 C521.3 252.2 525.8 254.2 528.0 256.0 C530.2 257.8 531.7 259.8 533.0 262.0 C534.3 264.2 535.4 267.0 536.0 269.0 C536.6 271.0 536.8 272.8 536.5 274.0 C536.2 275.2 534.4 275.7 534.0 276.0" stroke-width="1.90" />
<path d="M524.5 278.0 L534.0 276.0" stroke-width="1.90" />
<path d="M490.0 266.5 C491.0 266.8 494.0 267.1 496.0 268.0 C498.0 268.9 500.3 270.2 502.0 272.0 C503.7 273.8 505.2 276.7 506.0 279.0 C506.8 281.3 506.4 284.8 506.5 286.0" stroke-width="1.90" />
<path d="M502.0 287.9 L523.0 279.0" stroke-width="1.90" />
<path d="M525.5 245.0 C525.4 245.6 524.8 247.5 525.0 248.5 C525.2 249.5 526.7 250.6 527.0 251.0" stroke-width="1.90" />
<path d="M525.5 245.0 C527.4 244.2 533.9 241.1 537.0 240.5 C540.1 239.9 542.8 241.3 544.0 241.5" stroke-width="1.90" />
<path d="M527.0 251.0 C528.2 250.6 531.8 249.0 534.0 248.5 C536.2 248.0 539.0 248.1 540.0 248.0" stroke-width="1.90" />
<path d="M540.0 248.0 C540.8 248.7 543.6 250.2 545.0 252.0 C546.4 253.8 547.8 256.7 548.5 259.0 C549.2 261.3 548.9 264.8 549.0 266.0" stroke-width="1.90" />
<path d="M544.0 241.5 C545.2 242.1 549.0 243.4 551.0 245.0 C553.0 246.6 554.7 248.8 556.0 251.0 C557.3 253.2 558.4 256.0 559.0 258.0 C559.6 260.0 559.7 261.8 559.5 263.0 C559.3 264.2 558.2 264.7 558.0 265.0" stroke-width="1.90" />
<path d="M536.5 271.5 C537.8 271.2 541.8 270.7 544.0 270.0 C546.2 269.3 547.7 268.3 550.0 267.5 C552.3 266.7 556.7 265.4 558.0 265.0" stroke-width="1.90" />
<path d="M534.0 262.0 C534.5 263.3 536.6 268.4 537.0 270.0 C537.4 271.6 536.6 271.2 536.5 271.5" stroke-width="1.40" />
<path d="M549.0 241.0 L579.9 228.0" stroke-width="1.90" />
<path d="M558.5 264.0 L572.0 259.0" stroke-width="1.90" />
<path d="M552.0 241.0 C553.0 241.5 556.2 242.3 558.0 244.0 C559.8 245.7 561.8 248.7 563.0 251.0 C564.2 253.3 564.8 256.2 565.0 258.0 C565.2 259.8 564.2 260.9 564.0 261.5" stroke-width="1.50" />
<path d="M556.0 240.5 C557.0 241.2 560.4 243.1 562.0 245.0 C563.6 246.9 564.8 249.7 565.5 252.0 C566.2 254.3 565.9 257.8 566.0 259.0" stroke-width="1.25" />
<path d="M563.0 236.5 L566.5 237.0" stroke-width="2.00" />
<path d="M555.0 238.0 L590.0 223.5 L634.9 206.0" stroke-width="1.90" />
<path d="M563.5 236.0 L566.0 236.8" stroke-width="1.75" />
<path d="M609.5 216.5 L612.5 217.2" stroke-width="1.75" />
<path d="M619.5 212.2 L622.5 212.8" stroke-width="1.75" />
<path d="M555.0 241.0 C555.8 241.5 558.5 242.5 560.0 244.0 C561.5 245.5 563.3 249.0 564.0 250.0" stroke-width="1.50" />
<path d="M558.0 240.0 C558.8 240.8 561.7 243.2 563.0 245.0 C564.3 246.8 565.5 250.0 566.0 251.0" stroke-width="1.25" />
<path d="M586.3 228.2 C587.0 228.7 589.4 230.1 590.7 231.7 C592.0 233.3 593.3 235.6 594.2 237.8 C595.1 240.0 595.7 242.9 595.9 244.8 C596.2 246.7 595.6 248.5 595.5 249.2" stroke-width="1.90" />
<path d="M595.5 249.2 C595.9 249.8 596.6 252.0 597.7 252.7 C598.8 253.4 600.2 253.9 602.1 253.6 C604.0 253.3 607.0 252.1 609.1 250.9 C611.1 249.8 613.0 248.2 614.3 246.6 C615.7 245.0 616.5 242.2 617.0 241.3" stroke-width="1.90" />
<path d="M595.5 247.4 L602.1 244.8 L599.4 251.8 L596.8 251.4 Z" fill="#000" stroke-width="0.8"/>
<path d="M596.8 222.5 C597.7 222.8 600.5 223.4 602.1 224.7 C603.7 225.9 605.4 227.9 606.5 229.9 C607.5 232.0 608.1 234.7 608.2 236.9 C608.3 239.1 608.1 241.3 607.3 243.1 C606.6 244.8 604.8 246.0 603.8 247.4 C602.8 248.9 601.6 251.1 601.2 251.8" stroke-width="1.90" />
<path d="M602.1 223.8 C602.7 224.4 604.6 225.5 605.6 227.3 C606.6 229.0 607.8 233.1 608.2 234.3" stroke-width="1.25" />
<path d="M607.3 218.1 C608.2 218.4 611.0 219.0 612.6 220.3 C614.2 221.5 615.8 223.5 617.0 225.5 C618.1 227.6 619.0 230.5 619.6 232.5 C620.2 234.6 620.9 236.3 620.5 237.8 C620.0 239.3 617.6 240.7 617.0 241.3" stroke-width="1.88" />
<path d="M616.1 219.4 C616.8 220.1 619.4 221.9 620.5 223.8 C621.6 225.7 622.4 228.6 622.7 230.8 C623.0 233.0 622.3 235.9 622.2 236.9" stroke-width="2.75" />
<path d="M621.3 238.7 L630.0 234.3" stroke-width="1.90" />
<path d="M559.6 263.6 L571.9 259.2" stroke-width="1.90" />
<path d="M571.0 232.0 C571.9 232.4 574.7 233.3 576.3 234.6 C577.9 236.0 579.4 237.9 580.7 239.9 C581.9 241.9 583.2 244.6 583.7 246.9 C584.3 249.2 584.5 251.7 584.2 253.9 C583.8 256.1 582.9 258.5 581.6 260.1 C580.2 261.7 577.2 263.0 576.3 263.6" stroke-width="1.90" />
<path d="M571.9 259.2 C572.1 259.8 572.5 261.9 573.2 262.7 C574.0 263.5 574.6 264.0 576.3 264.0 C578.0 264.0 581.1 263.5 583.3 262.7 C585.5 261.9 587.8 260.5 589.4 259.2 C591.0 257.9 592.1 256.3 592.9 254.8 C593.7 253.3 594.0 251.1 594.3 250.4" stroke-width="1.90" />
<path d="M571.9 259.2 L576.7 259.9 L575.4 263.6 Z" fill="#000" stroke-width="0.8"/>
<path d="M578.9 233.8 C579.7 234.8 582.2 237.6 583.3 239.9 C584.4 242.2 585.3 245.3 585.5 247.8 C585.7 250.3 585.4 252.6 584.6 254.8 C583.8 257.0 581.3 259.9 580.7 260.9" stroke-width="1.20" />
<path d="M586.8 227.6 C587.5 228.4 590.0 230.1 591.2 232.0 C592.4 233.9 593.2 236.7 593.8 239.0 C594.4 241.4 594.6 244.1 594.7 246.0 C594.8 247.9 594.3 249.7 594.3 250.4" stroke-width="1.90" />
<path d="M602.6 225.0 C603.3 226.0 606.0 228.9 607.0 231.1 C607.9 233.3 608.3 236.0 608.3 238.1 C608.3 240.3 607.8 242.2 607.0 244.3 C606.2 246.3 604.0 249.4 603.5 250.4" stroke-width="1.30" />
<path d="M637.0 205.5 C637.7 205.6 639.7 205.4 641.0 206.0 C642.3 206.6 643.8 207.7 645.0 209.0 C646.2 210.3 647.3 212.2 648.0 214.0 C648.7 215.8 649.1 218.3 649.0 220.0 C648.9 221.7 647.8 223.3 647.5 224.0" stroke-width="1.90" />
<path d="M647.5 224.0 L639.5 228.5" stroke-width="1.90" />
<path d="M630.5 209.0 C631.2 209.7 633.7 211.2 635.0 213.0 C636.3 214.8 637.8 217.4 638.5 220.0 C639.2 222.6 639.4 226.9 639.5 228.5 C639.6 230.1 639.1 229.3 639.0 229.5" stroke-width="1.90" />
<path d="M620.5 238.0 L639.0 229.5" stroke-width="1.90" />
<path d="M619.0 212.5 L623.0 213.5" stroke-width="1.75" />
<path d="M639.0 208.0 L643.0 209.0" stroke-width="1.75" />
<path d="M276.0 374.3 L276.5 376.8 L276.8 379.4 L276.9 381.9 L276.8 384.4 L276.6 386.8 L276.2 389.2 L275.6 391.4 L274.8 393.4 L273.9 395.3 L272.8 397.0 L271.6 398.5 L270.2 399.7 L268.8 400.7 L267.2 401.5 L265.6 402.0 L263.9 402.2 L262.2 402.2 L260.5 401.9 L258.7 401.3 L257.0 400.5 L255.3 399.5 L253.6 398.2 L252.1 396.6 L250.6 394.9 L249.2 393.0 L248.0 390.9 L246.8 388.6 L245.9 386.3 L245.0 383.8 L244.4 381.3 L243.9 378.8 L243.6 376.2 L243.5 373.7 L243.6 371.2 L243.8 368.8 L244.2 366.4 L244.8 364.2 L245.6 362.2 L246.5 360.3 L247.6 358.6 L248.8 357.1 L250.2 355.9 L251.6 354.9 L253.2 354.1 L254.8 353.6 L256.5 353.4 L258.2 353.4 L259.9 353.7 L261.7 354.3 L263.4 355.1 L265.1 356.1 L266.8 357.4 L268.3 359.0 L269.8 360.7 L271.2 362.6 L272.4 364.7 L273.6 367.0 L274.5 369.3 L275.4 371.8 Z" stroke-width="1.90" fill="#fff"/>
<path d="M270.6 375.0 L271.1 377.6 L271.4 380.2 L271.5 382.7 L271.4 385.3 L271.2 387.7 L270.8 390.0 L270.1 392.3 L269.4 394.3 L268.4 396.2 L267.3 397.9 L266.1 399.4 L264.7 400.7 L263.3 401.7 L261.7 402.5 L260.1 403.0 L258.4 403.2 L256.6 403.2 L254.8 402.9 L253.1 402.3 L251.3 401.5 L249.6 400.4 L247.9 399.1 L246.4 397.6 L244.9 395.8 L243.5 393.9 L242.2 391.8 L241.1 389.5 L240.1 387.2 L239.3 384.7 L238.6 382.2 L238.1 379.6 L237.8 377.0 L237.7 374.5 L237.8 371.9 L238.0 369.5 L238.4 367.2 L239.1 364.9 L239.8 362.9 L240.8 361.0 L241.9 359.3 L243.1 357.8 L244.5 356.5 L245.9 355.5 L247.5 354.7 L249.1 354.2 L250.8 354.0 L252.6 354.0 L254.4 354.3 L256.1 354.9 L257.9 355.7 L259.6 356.8 L261.3 358.1 L262.8 359.6 L264.3 361.4 L265.7 363.3 L267.0 365.4 L268.1 367.7 L269.1 370.0 L269.9 372.5 Z" stroke-width="1.90" fill="#fff"/>
<path d="M257.6 379.3 L257.7 379.9 L257.8 380.5 L257.8 381.1 L257.8 381.6 L257.8 382.2 L257.7 382.7 L257.6 383.3 L257.4 383.7 L257.2 384.2 L257.0 384.5 L256.7 384.9 L256.4 385.2 L256.1 385.4 L255.8 385.6 L255.4 385.7 L255.0 385.7 L254.7 385.7 L254.3 385.6 L253.9 385.5 L253.5 385.3 L253.2 385.0 L252.8 384.7 L252.5 384.3 L252.1 383.9 L251.8 383.5 L251.6 383.0 L251.3 382.4 L251.1 381.9 L250.9 381.3 L250.8 380.7 L250.7 380.1 L250.6 379.5 L250.6 378.9 L250.6 378.4 L250.6 377.8 L250.7 377.3 L250.8 376.7 L251.0 376.3 L251.2 375.8 L251.4 375.5 L251.7 375.1 L252.0 374.8 L252.3 374.6 L252.6 374.4 L253.0 374.3 L253.4 374.3 L253.7 374.3 L254.1 374.4 L254.5 374.5 L254.9 374.7 L255.2 375.0 L255.6 375.3 L255.9 375.7 L256.3 376.1 L256.6 376.5 L256.8 377.0 L257.1 377.6 L257.3 378.1 L257.5 378.7 Z" stroke-width="1.70" />
<path d="M255.3 375.8 L255.4 375.9 L255.5 375.9 L255.7 376.0 L255.8 376.1 L255.9 376.2 L256.0 376.4 L256.2 376.5 L256.3 376.6 L256.4 376.8 L256.5 376.9 L256.6 377.1 L256.7 377.3 L256.8 377.5 L256.9 377.7 L257.0 377.9 L257.1 378.1 L257.2 378.3 L257.3 378.5 L257.4 378.7 L257.4 378.9 L257.5 379.2 L257.6 379.4 L257.6 379.6 L257.7 379.9 L257.7 380.1 L257.8 380.4 L257.8 380.6 L257.8 380.8 L257.8 381.1 L257.8 381.3 L257.8 381.5 L257.8 381.7 L257.8 382.0 L257.8 382.2 L257.8 382.4 L257.8 382.6 L257.7 382.8 L257.7 383.0 L257.6 383.2 L257.6 383.3 L257.5 383.5 L257.5 383.7 L257.4 383.8 L257.3 383.9 L257.2 384.1 L257.1 384.2 L257.0 384.3 L256.9 384.4 L256.8 384.5 L256.7 384.5 L256.6 384.6 L256.5 384.7 L256.4 384.7 L256.3 384.7 L256.2 384.7 L256.0 384.7 L255.9 384.7 L255.8 384.7 L255.7 384.6 L255.5 384.6" stroke-width="1.10" />
<path d="M247.1 363.2 L246.7 363.5 L246.2 363.4 L245.8 362.9 L245.5 362.2 L245.5 361.4 L245.7 360.8 L246.1 360.5 L246.6 360.6" stroke-width="1.50" />
<path d="M254.7 364.2 L254.3 364.5 L253.8 364.4 L253.4 363.9 L253.1 363.2 L253.1 362.4 L253.3 361.8 L253.7 361.5 L254.2 361.6" stroke-width="1.50" />
<path d="M261.2 369.9 L260.8 370.2 L260.3 370.1 L259.9 369.6 L259.6 368.9 L259.6 368.1 L259.8 367.5 L260.2 367.2 L260.7 367.3" stroke-width="1.50" />
<path d="M242.4 375.2 L242.0 375.5 L241.5 375.4 L241.1 374.9 L240.8 374.2 L240.8 373.4 L241.0 372.8 L241.4 372.5 L241.9 372.6" stroke-width="1.50" />
<path d="M248.4 391.2 L248.0 391.5 L247.5 391.4 L247.1 390.9 L246.8 390.2 L246.8 389.4 L247.0 388.8 L247.4 388.5 L247.9 388.6" stroke-width="1.50" />
<path d="M262.0 398.5 L261.6 398.8 L261.1 398.7 L260.7 398.2 L260.4 397.5 L260.4 396.7 L260.6 396.1 L261.0 395.8 L261.5 395.9" stroke-width="1.50" />
<path d="M268.1 387.2 L267.7 387.5 L267.2 387.4 L266.8 386.9 L266.5 386.2 L266.5 385.4 L266.7 384.8 L267.1 384.5 L267.6 384.6" stroke-width="1.50" />
<path d="M253.0 363.3 L226.0 375.0" stroke-width="1.20" stroke-dasharray="16 2.5 3 2.5"/>
<path d="M679.7 141.7 L680.0 143.0 L680.1 144.3 L680.2 145.5 L680.2 146.8 L680.0 148.0 L679.8 149.2 L679.4 150.4 L679.0 151.4 L678.4 152.4 L677.8 153.3 L677.1 154.1 L676.3 154.8 L675.5 155.4 L674.6 155.9 L673.6 156.2 L672.6 156.4 L671.6 156.4 L670.6 156.4 L669.6 156.2 L668.5 155.8 L667.5 155.4 L666.6 154.8 L665.7 154.1 L664.8 153.3 L664.0 152.3 L663.2 151.3 L662.6 150.3 L662.0 149.1 L661.5 147.9 L661.1 146.7 L660.8 145.4 L660.7 144.1 L660.6 142.9 L660.6 141.6 L660.8 140.4 L661.0 139.2 L661.4 138.0 L661.8 137.0 L662.4 136.0 L663.0 135.1 L663.7 134.3 L664.5 133.6 L665.3 133.0 L666.2 132.5 L667.2 132.2 L668.2 132.0 L669.2 132.0 L670.2 132.0 L671.2 132.2 L672.3 132.6 L673.3 133.0 L674.2 133.6 L675.1 134.3 L676.0 135.1 L676.8 136.1 L677.6 137.1 L678.2 138.1 L678.8 139.3 L679.3 140.5 Z" stroke-width="1.90" />
<path d="M678.0 142.8 L678.3 143.8 L678.4 144.8 L678.5 145.8 L678.5 146.8 L678.3 147.7 L678.2 148.7 L677.9 149.5 L677.5 150.4 L677.1 151.2 L676.6 151.9 L676.1 152.5 L675.5 153.0 L674.8 153.5 L674.1 153.8 L673.4 154.1 L672.6 154.2 L671.9 154.3 L671.1 154.2 L670.3 154.0 L669.5 153.8 L668.7 153.4 L668.0 152.9 L667.3 152.4 L666.6 151.8 L666.0 151.0 L665.4 150.3 L664.9 149.4 L664.4 148.5 L664.1 147.6 L663.8 146.6 L663.5 145.6 L663.4 144.6 L663.3 143.6 L663.3 142.6 L663.5 141.7 L663.6 140.7 L663.9 139.9 L664.3 139.0 L664.7 138.2 L665.2 137.5 L665.7 136.9 L666.3 136.4 L667.0 135.9 L667.7 135.6 L668.4 135.3 L669.2 135.2 L669.9 135.1 L670.7 135.2 L671.5 135.4 L672.3 135.6 L673.1 136.0 L673.8 136.5 L674.5 137.0 L675.2 137.6 L675.8 138.4 L676.4 139.1 L676.9 140.0 L677.4 140.9 L677.7 141.8 Z" stroke-width="1.40" />
<path d="M664.3 132.9 C665.7 132.2 670.5 129.2 672.9 128.6 C675.3 127.9 676.8 128.5 678.6 128.9 C680.4 129.4 682.3 130.4 683.6 131.4 C684.9 132.5 685.6 133.6 686.5 135.0 C687.3 136.5 688.4 138.2 688.6 140.0 C688.9 141.8 688.5 144.1 687.9 145.8 C687.3 147.4 686.4 148.7 685.0 150.0 C683.7 151.4 682.2 152.5 680.0 153.6 C677.9 154.7 673.5 156.0 672.2 156.5" stroke-width="1.60" />
<path d="M684.3 131.8 C684.8 132.6 686.5 134.8 687.2 136.5 C687.8 138.1 688.2 140.0 688.3 141.5 C688.3 142.9 687.7 144.4 687.5 145.0" stroke-width="1.10" />
<path d="M687.2 131.8 L691.5 129.3" stroke-width="1.60" />
<path d="M691.5 129.3 C692.1 129.4 694.0 129.3 695.1 130.0 C696.1 130.7 697.1 132.4 697.6 133.6 C698.0 134.8 698.2 136.0 697.9 137.2 C697.7 138.3 696.8 139.7 696.1 140.4 C695.4 141.1 694.0 141.3 693.6 141.5" stroke-width="1.60" />
<path d="M693.6 141.5 L688.6 143.6" stroke-width="1.60" />
<path d="M691.5 130.7 L692.9 131.8" stroke-width="1.20" />
<path d="M669.3 136.5 C669.9 137.2 671.9 139.0 672.9 140.7 C673.8 142.5 674.6 145.2 675.0 147.2 C675.4 149.2 675.3 152.0 675.4 152.9" stroke-width="1.20" />
<path d="M672.9 137.9 C673.5 138.7 675.6 141.1 676.5 142.9 C677.3 144.7 677.7 147.7 677.9 148.6" stroke-width="1.00" />
<path d="M644.6 155.1 L644.7 155.5 L644.7 156.0 L644.7 156.5 L644.6 157.0 L644.5 157.5 L644.4 157.9 L644.2 158.3 L644.0 158.7 L643.8 159.1 L643.5 159.4 L643.2 159.7 L642.9 159.9 L642.5 160.1 L642.1 160.2 L641.8 160.3 L641.4 160.4 L641.0 160.4 L640.6 160.3 L640.2 160.2 L639.8 160.0 L639.5 159.8 L639.1 159.6 L638.8 159.3 L638.5 158.9 L638.2 158.6 L638.0 158.2 L637.7 157.7 L637.6 157.3 L637.4 156.8 L637.3 156.3 L637.2 155.9 L637.2 155.4 L637.2 154.9 L637.3 154.4 L637.4 153.9 L637.5 153.5 L637.7 153.1 L637.9 152.7 L638.1 152.3 L638.4 152.0 L638.7 151.7 L639.0 151.5 L639.4 151.3 L639.8 151.2 L640.1 151.1 L640.5 151.0 L640.9 151.0 L641.3 151.1 L641.7 151.2 L642.1 151.4 L642.4 151.6 L642.8 151.8 L643.1 152.1 L643.4 152.5 L643.7 152.8 L643.9 153.2 L644.2 153.7 L644.3 154.1 L644.5 154.6 Z" stroke-width="2.00" />
<path d="M642.7 155.7 L642.7 155.9 L642.7 156.0 L642.7 156.2 L642.7 156.4 L642.7 156.5 L642.6 156.7 L642.5 156.9 L642.5 157.0 L642.4 157.1 L642.3 157.2 L642.2 157.3 L642.1 157.4 L642.0 157.5 L641.8 157.5 L641.7 157.6 L641.6 157.6 L641.4 157.6 L641.3 157.6 L641.1 157.5 L641.0 157.5 L640.9 157.4 L640.8 157.3 L640.6 157.2 L640.5 157.1 L640.4 156.9 L640.4 156.8 L640.3 156.6 L640.2 156.5 L640.2 156.3 L640.1 156.1 L640.1 155.9 L640.1 155.8 L640.1 155.6 L640.1 155.4 L640.1 155.3 L640.2 155.1 L640.3 154.9 L640.3 154.8 L640.4 154.7 L640.5 154.6 L640.6 154.5 L640.7 154.4 L640.8 154.3 L641.0 154.3 L641.1 154.2 L641.2 154.2 L641.4 154.2 L641.5 154.2 L641.7 154.3 L641.8 154.3 L641.9 154.4 L642.0 154.5 L642.2 154.6 L642.3 154.7 L642.4 154.9 L642.4 155.0 L642.5 155.2 L642.6 155.3 L642.6 155.5 Z" stroke-width="1.40" />
<path d="M640.0 151.0 L651.3 146.9" stroke-width="1.60" />
<path d="M643.8 160.7 L654.4 156.9" stroke-width="1.60" />
<path d="M651.3 146.9 C651.9 147.2 654.2 147.8 655.0 148.8 C655.9 149.7 656.4 151.2 656.3 152.5 C656.2 153.9 654.7 156.2 654.4 156.9" stroke-width="1.60" />
<path d="M648.8 147.8 C649.3 148.3 651.2 149.5 651.9 150.7 C652.6 151.9 652.8 153.8 652.8 155.0 C652.8 156.2 652.1 157.4 651.9 157.8" stroke-width="1.40" />
<path d="M644.1 150.2 C644.5 150.7 646.0 151.9 646.5 153.3 C646.9 154.7 646.8 157.7 646.9 158.6" stroke-width="1.30" />
<path d="M645.0 149.8 C645.4 150.4 646.9 151.6 647.3 153.0 C647.8 154.4 647.7 157.4 647.8 158.3" stroke-width="1.30" />
<path d="M645.8 149.5 C646.2 150.0 647.7 151.2 648.2 152.7 C648.7 154.1 648.6 157.1 648.6 158.0" stroke-width="1.30" />
<path d="M646.7 149.2 C647.1 149.7 648.6 150.9 649.1 152.3 C649.6 153.7 649.5 156.8 649.5 157.7" stroke-width="1.30" />
<path d="M647.6 148.9 C648.0 149.4 649.5 150.6 650.0 152.0 C650.4 153.4 650.3 156.5 650.4 157.3" stroke-width="1.30" />
<path d="M648.5 148.6 C648.9 149.1 650.4 150.3 650.8 151.7 C651.3 153.1 651.2 156.1 651.3 157.0" stroke-width="1.30" />
<path d="M649.4 142.2 L656.9 140.0" stroke-width="1.40" />
<path d="M650.3 144.7 L658.8 142.8" stroke-width="1.40" />
<path d="M656.9 140.0 C657.3 140.2 658.8 140.5 659.1 141.0 C659.4 141.4 658.8 142.5 658.8 142.8" stroke-width="1.40" />
<path d="M649.4 142.2 C649.3 142.4 648.6 143.0 648.8 143.5 C648.9 143.9 650.1 144.5 650.3 144.7" stroke-width="1.40" />
<circle cx="654.1" cy="141.4" r="1.2" fill="#000" stroke="none"/>
<path d="M708.5 130.1 L708.5 130.6 L708.5 131.2 L708.4 131.7 L708.3 132.2 L708.1 132.7 L707.9 133.1 L707.6 133.5 L707.3 133.9 L707.0 134.3 L706.6 134.6 L706.2 134.9 L705.8 135.1 L705.4 135.3 L704.9 135.4 L704.4 135.5 L704.0 135.5 L703.5 135.5 L703.0 135.4 L702.6 135.2 L702.1 135.0 L701.7 134.8 L701.3 134.5 L701.0 134.1 L700.6 133.7 L700.3 133.3 L700.1 132.9 L699.9 132.4 L699.7 131.9 L699.6 131.4 L699.5 130.9 L699.5 130.4 L699.5 129.8 L699.6 129.3 L699.7 128.8 L699.9 128.3 L700.1 127.9 L700.4 127.5 L700.7 127.1 L701.0 126.7 L701.4 126.4 L701.8 126.1 L702.2 125.9 L702.6 125.7 L703.1 125.6 L703.6 125.5 L704.0 125.5 L704.5 125.5 L705.0 125.6 L705.4 125.8 L705.9 126.0 L706.3 126.2 L706.7 126.5 L707.0 126.9 L707.4 127.3 L707.7 127.7 L707.9 128.1 L708.1 128.6 L708.3 129.1 L708.4 129.6 Z" stroke-width="1.90" />
<path d="M705.4 130.4 L705.4 130.7 L705.4 131.0 L705.4 131.3 L705.3 131.6 L705.3 131.9 L705.2 132.1 L705.1 132.3 L705.0 132.6 L704.9 132.8 L704.7 132.9 L704.6 133.1 L704.4 133.2 L704.2 133.3 L704.0 133.4 L703.8 133.4 L703.7 133.4 L703.5 133.4 L703.3 133.3 L703.1 133.2 L702.9 133.1 L702.7 132.9 L702.6 132.8 L702.4 132.6 L702.3 132.4 L702.2 132.1 L702.1 131.9 L702.0 131.6 L701.9 131.3 L701.8 131.0 L701.8 130.8 L701.8 130.5 L701.8 130.2 L701.8 129.9 L701.9 129.6 L701.9 129.3 L702.0 129.1 L702.1 128.9 L702.2 128.6 L702.3 128.4 L702.5 128.3 L702.6 128.1 L702.8 128.0 L703.0 127.9 L703.2 127.8 L703.4 127.8 L703.5 127.8 L703.7 127.8 L703.9 127.9 L704.1 128.0 L704.3 128.1 L704.5 128.3 L704.6 128.4 L704.8 128.6 L704.9 128.8 L705.0 129.1 L705.1 129.3 L705.2 129.6 L705.3 129.9 L705.4 130.2 Z" stroke-width="1.20" />
<path d="M705.0 128.5 L706.0 133.0" stroke-width="1.00" />
<path d="M713.5 124.5 L735.5 115.0" stroke-width="1.60" />
<path d="M714.5 129.0 L737.0 120.5" stroke-width="1.60" />
<path d="M713.5 124.5 C713.3 124.9 712.3 126.2 712.5 127.0 C712.7 127.8 714.2 128.7 714.5 129.0" stroke-width="1.60" />
<path d="M714.5 124.2 L715.7 128.4" stroke-width="1.10" />
<path d="M716.0 123.5 L717.2 127.8" stroke-width="1.10" />
<path d="M717.5 122.9 L718.7 127.1" stroke-width="1.10" />
<path d="M719.0 122.2 L720.2 126.5" stroke-width="1.10" />
<path d="M720.5 121.6 L721.7 125.8" stroke-width="1.10" />
<path d="M722.0 121.0 L723.2 125.2" stroke-width="1.10" />
<path d="M723.5 120.3 L724.7 124.5" stroke-width="1.10" />
<path d="M735.5 113.5 C736.2 113.2 738.8 112.2 740.0 112.0 C741.2 111.8 742.5 112.4 743.0 112.5" stroke-width="1.60" />
<path d="M743.0 112.5 C743.3 113.1 744.8 114.8 745.0 116.0 C745.2 117.2 744.7 118.6 744.0 119.5 C743.3 120.4 741.5 120.9 741.0 121.2" stroke-width="1.60" />
<path d="M737.0 121.2 L741.0 121.2" stroke-width="1.60" />
<path d="M735.5 113.5 C735.8 114.0 737.2 115.2 737.5 116.5 C737.8 117.8 737.1 120.4 737.0 121.2" stroke-width="1.60" />
<path d="M210.6 382.8 L210.6 383.1 L210.6 383.4 L210.6 383.7 L210.5 384.0 L210.4 384.3 L210.3 384.6 L210.2 384.8 L210.0 385.1 L209.8 385.3 L209.6 385.5 L209.4 385.7 L209.1 385.8 L208.9 385.9 L208.6 386.0 L208.3 386.1 L208.0 386.1 L207.7 386.1 L207.5 386.0 L207.2 386.0 L206.9 385.9 L206.7 385.7 L206.4 385.6 L206.2 385.4 L206.0 385.2 L205.8 385.0 L205.6 384.7 L205.5 384.4 L205.4 384.2 L205.3 383.9 L205.2 383.6 L205.2 383.3 L205.2 383.0 L205.2 382.7 L205.3 382.4 L205.4 382.1 L205.5 381.8 L205.6 381.6 L205.8 381.3 L206.0 381.1 L206.2 380.9 L206.4 380.7 L206.7 380.6 L206.9 380.5 L207.2 380.4 L207.5 380.3 L207.8 380.3 L208.1 380.3 L208.3 380.4 L208.6 380.4 L208.9 380.5 L209.1 380.7 L209.4 380.8 L209.6 381.0 L209.8 381.2 L210.0 381.4 L210.2 381.7 L210.3 382.0 L210.4 382.2 L210.5 382.5 Z" stroke-width="1.90" />
<path d="M208.5 383.6 L208.5 383.7 L208.5 383.8 L208.5 383.9 L208.4 384.0 L208.4 384.1 L208.3 384.1 L208.3 384.2 L208.2 384.3 L208.1 384.3 L208.0 384.4 L208.0 384.4 L207.9 384.5 L207.8 384.5 L207.7 384.5 L207.6 384.5 L207.5 384.5 L207.4 384.5 L207.3 384.5 L207.2 384.4 L207.2 384.4 L207.1 384.3 L207.0 384.3 L206.9 384.2 L206.9 384.1 L206.8 384.1 L206.8 384.0 L206.7 383.9 L206.7 383.8 L206.7 383.7 L206.7 383.6 L206.7 383.5 L206.7 383.4 L206.7 383.3 L206.8 383.2 L206.8 383.2 L206.9 383.1 L206.9 383.0 L207.0 382.9 L207.1 382.9 L207.2 382.8 L207.2 382.8 L207.3 382.7 L207.4 382.7 L207.5 382.7 L207.6 382.7 L207.7 382.7 L207.8 382.7 L207.9 382.7 L208.0 382.8 L208.0 382.8 L208.1 382.9 L208.2 382.9 L208.3 383.0 L208.3 383.1 L208.4 383.2 L208.4 383.2 L208.5 383.3 L208.5 383.4 L208.5 383.5 Z" stroke-width="1.20" />
<path d="M208.5 379.1 C208.8 379.0 209.8 378.5 210.6 378.3 C211.5 378.2 212.9 377.8 213.8 378.1 C214.6 378.5 215.4 379.8 215.7 380.6 C215.9 381.5 215.7 382.5 215.0 383.1 C214.4 383.8 212.4 384.3 211.9 384.5" stroke-width="1.80" />
<path d="M211.0 379.1 C211.2 379.4 212.4 380.5 212.5 381.3 C212.7 382.1 212.0 383.4 211.9 383.8" stroke-width="1.20" />
<path d="M222.7 377.3 L222.7 377.6 L222.7 378.0 L222.7 378.3 L222.6 378.7 L222.5 379.0 L222.4 379.3 L222.3 379.6 L222.1 379.9 L221.9 380.1 L221.8 380.3 L221.5 380.5 L221.3 380.7 L221.1 380.8 L220.8 380.8 L220.6 380.9 L220.3 380.9 L220.1 380.9 L219.8 380.8 L219.6 380.7 L219.4 380.5 L219.1 380.4 L218.9 380.2 L218.7 379.9 L218.5 379.7 L218.4 379.4 L218.2 379.1 L218.1 378.7 L218.0 378.4 L218.0 378.1 L217.9 377.7 L217.9 377.4 L217.9 377.0 L217.9 376.7 L218.0 376.3 L218.1 376.0 L218.2 375.7 L218.3 375.4 L218.5 375.1 L218.7 374.9 L218.8 374.7 L219.1 374.5 L219.3 374.3 L219.5 374.2 L219.8 374.2 L220.0 374.1 L220.3 374.1 L220.5 374.1 L220.8 374.2 L221.0 374.3 L221.2 374.5 L221.5 374.6 L221.7 374.8 L221.9 375.1 L222.1 375.3 L222.2 375.6 L222.4 375.9 L222.5 376.3 L222.6 376.6 L222.6 376.9 Z" stroke-width="2.00" />
<path d="M221.3 377.9 L221.3 378.1 L221.3 378.2 L221.3 378.4 L221.3 378.5 L221.2 378.6 L221.2 378.8 L221.1 378.9 L221.1 379.0 L221.0 379.1 L221.0 379.2 L220.9 379.2 L220.8 379.3 L220.7 379.3 L220.6 379.4 L220.5 379.4 L220.4 379.4 L220.3 379.4 L220.2 379.4 L220.1 379.3 L220.1 379.2 L220.0 379.2 L219.9 379.1 L219.8 379.0 L219.7 378.9 L219.7 378.8 L219.6 378.6 L219.6 378.5 L219.5 378.4 L219.5 378.2 L219.5 378.1 L219.5 377.9 L219.5 377.8 L219.5 377.6 L219.5 377.5 L219.6 377.4 L219.6 377.2 L219.7 377.1 L219.7 377.0 L219.8 376.9 L219.8 376.8 L219.9 376.8 L220.0 376.7 L220.1 376.7 L220.2 376.6 L220.3 376.6 L220.4 376.6 L220.5 376.6 L220.6 376.6 L220.7 376.7 L220.7 376.8 L220.8 376.8 L220.9 376.9 L221.0 377.0 L221.1 377.1 L221.1 377.2 L221.2 377.4 L221.2 377.5 L221.3 377.6 L221.3 377.8 Z" stroke-width="1.30" />
<path d="M238.7 387.5 L238.7 388.2 L238.7 388.8 L238.7 389.5 L238.6 390.1 L238.4 390.7 L238.2 391.3 L238.0 391.9 L237.7 392.4 L237.4 392.8 L237.0 393.3 L236.6 393.6 L236.1 393.9 L235.7 394.2 L235.2 394.3 L234.7 394.4 L234.2 394.5 L233.6 394.4 L233.1 394.3 L232.6 394.2 L232.1 393.9 L231.7 393.6 L231.2 393.3 L230.8 392.9 L230.4 392.4 L230.0 391.9 L229.7 391.4 L229.5 390.8 L229.2 390.2 L229.1 389.5 L228.9 388.9 L228.9 388.2 L228.9 387.6 L228.9 386.9 L229.0 386.3 L229.2 385.7 L229.4 385.1 L229.6 384.5 L229.9 384.0 L230.2 383.6 L230.6 383.1 L231.0 382.8 L231.5 382.5 L231.9 382.2 L232.4 382.1 L232.9 382.0 L233.4 381.9 L234.0 382.0 L234.5 382.1 L235.0 382.2 L235.5 382.5 L235.9 382.8 L236.4 383.1 L236.8 383.5 L237.2 384.0 L237.6 384.5 L237.9 385.0 L238.1 385.6 L238.4 386.2 L238.5 386.9 Z" stroke-width="2.20" />
<path d="M235.5 388.2 L235.5 388.6 L235.6 389.1 L235.6 389.5 L235.5 389.9 L235.5 390.3 L235.4 390.7 L235.3 391.0 L235.2 391.3 L235.1 391.6 L234.9 391.9 L234.8 392.1 L234.6 392.3 L234.4 392.4 L234.2 392.5 L234.0 392.6 L233.8 392.6 L233.5 392.5 L233.3 392.5 L233.1 392.3 L232.9 392.2 L232.6 392.0 L232.4 391.7 L232.2 391.4 L232.1 391.1 L231.9 390.8 L231.7 390.4 L231.6 390.0 L231.5 389.6 L231.4 389.2 L231.3 388.8 L231.3 388.4 L231.2 387.9 L231.2 387.5 L231.3 387.1 L231.3 386.7 L231.4 386.3 L231.5 386.0 L231.6 385.7 L231.7 385.4 L231.9 385.1 L232.0 384.9 L232.2 384.7 L232.4 384.6 L232.6 384.5 L232.8 384.4 L233.0 384.4 L233.3 384.5 L233.5 384.5 L233.7 384.7 L233.9 384.8 L234.2 385.0 L234.4 385.3 L234.6 385.6 L234.7 385.9 L234.9 386.2 L235.1 386.6 L235.2 387.0 L235.3 387.4 L235.4 387.8 Z" stroke-width="1.30" />
<path d="M236.3 385.0 C236.6 385.5 238.0 387.0 238.2 388.2 C238.4 389.3 237.7 391.3 237.6 391.9" stroke-width="1.30" />
</g></svg>
</body></html>
